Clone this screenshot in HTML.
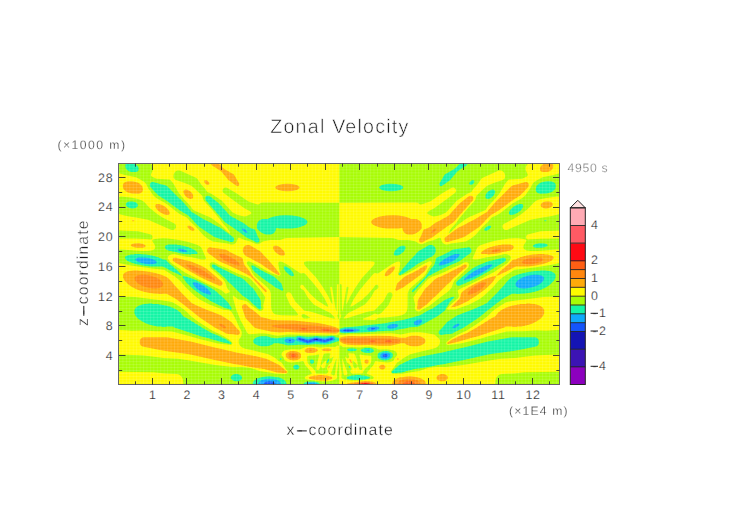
<!DOCTYPE html>
<html lang="en">
<head>
<meta charset="utf-8">
<title>Zonal Velocity</title>
<style>
html,body{margin:0;padding:0;background:#fff;}
body{width:752px;height:532px;overflow:hidden;font-family:"Liberation Sans", sans-serif;}
svg{display:block;}
</style>
</head>
<body>
<svg width="752" height="532" viewBox="0 0 752 532" text-rendering="geometricPrecision" style="-webkit-font-smoothing:antialiased">
<defs>
<pattern id="mesh" x="119.0" y="163.5" width="3.44" height="2.95" patternUnits="userSpaceOnUse">
<path d="M0.5 0V2.95M0 0.5H3.44" stroke="#fff" stroke-width="0.6" opacity="0.2" fill="none"/>
</pattern>
</defs>
<rect width="752" height="532" fill="#fff"/>
<rect x="119.0" y="163.5" width="440.5" height="221.0" fill="#a8fc05"/>
<g shape-rendering="geometricPrecision">
<path fill="#14f5a5" fill-rule="evenodd" d="M125.5 164.5l.9-1 8.1 0 1 .5 2.5 2.5 .6 1.5-.1 2.5-1 1-1.5 .6-4.5 0-2-.6-1-.5-1.5-1.3-.5-.2-.2-.5-.8-1-.2-2zM467.8 163.5l-.4 1-1.2 1.2-1.5 1-.5 .1-1 .9-.5 .1-5.4 3.7-6.3 7.5-.2 .5-1.1 1.1-.5 .2-1 .8-.5 .2-1 .9-.5 .1-1 .9-3.5 2.4-1 .1-1-.7-.3-.5 0-1.5 5.3-9 2-1.2 .5-.1 1-.8 2-1.1 .5-.1 1-.8 3-1.7 5.4-5.2zM474.2 180.5l.2 1-.2 1-1.5 1.7-.5 .3-1 .3-1-.1-.7-.2-.3-1 .3-1 1.7-1.7 1-.5 1.5 0zM555.7 184.5l0 3-.6 1.5-2.5 2.5-2 1-4 1.1-6.5 .1-1-.1-.5-.4-1-.2-1.5-1.5-.5-2 .3-.5 .2-2 .5-1 2.5-2.5 2-1.1 4-1 3.5-.1 3 .1 2.5 1.1 1.1 1 .1 .5zM150.4 183l.6-.6 1-.4 1.5 0 .5 .3 1 .2 .5 .3 2 .2 .5 .4 1 .1 .5 .4 1.5 .1 .5 .4 1.5 .1 .5 .4 1.5 .1 .5 .4 .5 0 .5 .5 .5 .1 12.9 12.9 .5 .1 .5 .5 .2 .5 4.3 4.5 .2 .5 2.8 3 .2 .5 1.9 2 .1 .5 1.3 1.3 2.5 1.2 1 .8 1.5 .7 1 .8 1.5 .7 1 .9 1.5 .6 1 .9 1.5 .6 .5 .4 .5 .1 .5 .4 .5 .1 .5 .4 .5 .1 .5 .4 .5 .1 .5 .4 .5 .1 .5 .4 .5 .1 .5 .4 .5 .1 1 .9 1.5 .5 .5 .5 .5 0 .5 .5 .5 0 .5 .5 .5 0 .5 .5 .5 0 .5 .5 1 .1 1 .9 .5 .1 1 .9 .5 .1 1.5 1.4 .5 .1 1.5 1.4 .5 .1 1.5 1.4 .5 .1 1.5 1.4 .5 .1 1.5 1.4 .5 .1 1.6 1.5 0 2.5-.6 1-1 .6-2 0-.5-.4-1-.2-.5-.3-1.5-.2-.5-.4-1-.1-.5-.3-1.5-.2-.5-.4-1-.1-.5-.3-1.5-.2-.5-.4-1-.1-.5-.4-1-.1-.5-.4-1-.1-1.5-.9-.5-.1-1-.9-.5-.1-1-.9-.5-.1-1-.9-.5-.1-1-.9-.5-.1-1-.9-.5-.1-1-.9-.5-.1-1-.9-.5-.1-1-.9-.5-.1-1-.9-.5-.1-6-6-.1-.5-5.9-5.8-.5-.2-1-.8-1.5-.7-.5-.4-.5-.1-2.5-1.8-1.5-.7-2.5-1.9-.5-.1-1.5-1.4-.5-.1-.9-.9-.5-.1-1.5-1.4-.5-.1-1.5-1.4-.5-.1-1.5-1.4-.5-.1-1-.9-.5-.1-1-.9-.5-.1-1-.9-1.5-.6-1-.9-.5-.1-1-.9-.5-.1-6-6-.2-.5-2.4-2.5-.5-1-.1-1 .1-1zM379.1 187l1.2-1.1 1.5-.9 1.5-.3 .5-.3 2-.2 .5-.3 5-.2 4.4 .2 4.5 1 2 1 1 1.1 0 1-1 1.1-2 1-4.5 1-4.4 .2-5-.2-.5-.3-2-.2-.5-.3-1.5-.3-1.5-.9-1.2-1.1zM495.2 191l0 .5-.4 2-1.6 2.5-1 1-1.5 1.1-1 .5-1 .2-.5 .2-.5 .1-.5-.4-1-.2-.6-.5-.2-1.5 .2-1.5 1-2 1.6-1.6 2.5-1.5 1-.1 .5-.3 1 0 1 .4zM205.4 197l1-1 1.5-.2 1.5 .1 1 .9 .5 .2 2 1.8 .5 .2 1.5 1.3 .5 .2 1.5 1.4 .5 .1 5 5 .1 .5 4.4 4.5 .1 .5 3.4 3.4 .5 .1 1 .8 .5 .1 .5 .5 1.5 .6 .5 .4 .5 .1 1 .8 1.5 .6 .5 .5 .5 0 .5 .5 .5 .1 .5 .4 .5 .1 .5 .4 .5 .1 .5 .4 .5 .1 1 .9 .5 .1 1.5 1.4 .5 .1 2 1.9 .5 .1 .5 .4 .5 .1 .5 .4 .5 .1 .5 .4 1 .1 .5 .4 1 .1 .5 .4 .5 .1 0 .5 .5 .5 0 .5 .5 .5 .1 1 .9 1.5 .1 1 .4 .5 .1 .5 .4 .5 .7 1.5 .8 1 .1 2-.6 1-1 .6-1.5-.1-4.5-2.4-5.5-2.6-1-.9-.5-.1-1.5-1.4-.5-.1-1.5-1.4-.5-.1-1-.9-.5-.1-1.5-1.4-.5-.1-1.5-1.4-.5-.1-1-.9-.5-.1-1.5-1.4-.5-.1-1-.9-.5-.1-1-.9-.5-.1-1-.9-.5-.1-1-.9-.5-.1-3.5-3.5-.1-.5-2.4-2.5-.1-.5-3.9-4-.1-.5-3.9-4-.1-.5-3.4-3.5-.1-.5-2.9-3-.1-1.5zM125.9 203.5l1.6-1.6 1-.1 .5-.4 4 0 .5 .4 1.5 .2 1 .5 1.6 1.5 0 .5 .4 .5 0 .5-.4 .5 0 .5-.6 .6-1.5 .9-1.5 .2-.5 .3-2 0-.5-.3-1.5-.1-1.5-.9-.5-.1-1.6-1.6zM523.2 205l0 1.5-.5 1.5-2 2.5-2.6 2.1-4 2-1.5 .1-.5 .3-1.5 0-.5-.3-.5-.1-.6-.6 .1-2 .3-.5 .1-.5 2-2.5 2.6-2.2 .5-.1 1-.8 1-.5 3-1 2.5 0zM256.9 228.5l0-4.5 .4-.5 0-.5 .5-.5 0-.5 2.1-2.1 .5 0 .5-.5 .5 0 .5-.4 6-.1 1.5-1 .5 0 .5-.4 1-.1 .5-.4 1.5-.2 .5-.3 2-.2 .5-.3 2.5-.2 .5-.3 5.9-.2 7.5 .2 .5 .3 3 .2 .5 .3 2 .2 .5 .3 1 .1 .5 .4 1 .1 .5 .5 1 .1 1.5 .9 .5 .1 1.6 1.5 0 .5 .5 .5 0 1-.5 .5 0 .5-1.6 1.5-.5 .1-1.5 .9-1 .1-.5 .5-1 .1-.5 .4-1 .1-.5 .3-2 .2-.5 .3-3 .2-.5 .3-2.5 .1-10.9-.1-.5-.3-2.5-.2-.4 .5-.1 1.5-.4 .5-.1 .5-.4 .5-.1 .5-1.5 1.5-.5 .1-.5 .4-1 .2-.5 .3-5 0-.5-.3-1-.1-.5-.4-1-.2-.5-.4-.5-.1-1-.9-.5-.1zM544.3 220.5l.3-.3 1.5 0 .3 .3 0 .5-.3 .3-1.5 0-.3-.3zM491.2 226.5l0 .5-.8 1-1.7 1.7-1 .5-1.5 .5-1.5-.1-.6-.6 0-.5 1-1.5 2.1-1.6 1.5-.6 2 0zM533.1 245.5l.5-.6 1-.5 1.5-.6 1.5-.1 .5-.3 1-.1 5.5 .1 .5 .3 1.5 .3 1.1 1 0 .5-.5 .5-1.1 .7-.5 .1-.5 .3-3 .6-6.5 0-2-.7-.5-.5zM164.9 246.5l.5-.5 .1-.5 .5 0 .5-.5 1-.1 .5-.4 8.9 0 .5 .4 3 .1 .5 .4 2 .1 .5 .4 1.5 .1 .5 .4 1 .1 .5 .4 1.5 .1 1.5 .9 1 .1 1.5 .9 .5 .1 .5 .4 .5 .1 1 .9 .5 .1 2.1 2 0 1-.6 .5-5.5 .1-.5 .4-1.5 0-.5-.3-5-.2-.5-.3-2.5-.2-.5-.3-2-.2-.5-.4-1-.1-.5-.4-1-.1-.5-.3-2.9-.2-.5-.4-2-.1-.5-.4-1-.1-.5-.4-.5-.1-1.6-1.5 0-.5-.5-.5zM434.8 247l.5 1 .2 1 .3 .5-.1 2-.3 .5-.1 1-.9 1-.1 .5-2.1 2-1 .2-.5 .4-1.5 .6-2 1.1-1 .8-6.5 3.2-.5 .4-.5 .1-7 4.9-.5 .1-1 .9-.5 .1-1 .9-.5 .1-1 .8-4 2.4-3 1.5-.5 0-.6-.5 0-1 4.6-6 2.8-3 .2-.5 2.3-2.5 .7-1 6.3-6.5 .2-.5 2.5-2.5 1.5-.7 .5-.4 .5-.1 1-.8 2.5-1.2 1-.8 3-1.7 1-.3 1.5-.1 1.5 .4 1 .6zM405.3 246.5l.2 1-.2 1.5-1.5 2.5-1.6 1.5-3 2-1 .3-.5 .3-3 0-1-1.1 0-.5 .5-2 1-1.5 2.5-2.6 2.5-1.6 1.5-.5 2.5 0 .5 .1zM471.3 249l.1 2.5-.5 1-1.2 1.2-3 2-1.5 1.3-.5 .2-3.5 2.9-.5 .1-1 .9-4 1.9-1 .3-1.5 .8-2 .7-2.5 1.2-1 .3-.5 .4-.5 .1-.5 .4-2.5 1-9 4.5-4.5 2.5-.5 .2-1 .7-.5 .2-2.5 2.4-12 12.9-1 .6-.8-.7 .2-1 13.1-13.3 .7-1.2 1-1 1.1-2 2-3 .9-1 .2-.5 2.8-3 1-2.5 .3-1.5 .3-.5 .1-1.5 .4-.5 .2-1 3-1.5 1-.2 .5-.4 .5-.1 .5-.4 2.5-1.1 3.5-1.9 .5-.1 .5-.4 .5-.1 1-.8 3-1.6 2.5-.1 .5-.4 3-.1 .5-.4 3-.2 .5-.2 3.5-.3 .5-.3 1-.1 1.5 .2zM125 257l1-1 .5-.1 .5-.4 1-.1 .5-.4 1.5-.1 .5-.4 3.5-.1 .5-.4 6 0 .5 .3 5.5 .2 .5 .3 2.5 .2 .5 .3 2.5 .2 .5 .4 1.5 .1 .5 .4 1 .1 .5 .4 1.5 .1 1.5 .9 1 .1 .5 .4 .5 .1 1 .9 2 .1 .5 .3 1 .2 4.5 4.8 .5 .2 1 .9 .5 .1 2.9 2.9 .6 .1 5.4 5.5 .1 .5 .9 1 2 0 .5 .4 1.5 .1 .5 .4 1 .1 .5 .4 1 .1 .5 .4 1 .1 1.5 .8 1 .2 1.5 .8 1 .2 11 5.5 1 .8 2.5 1.2 2.5 1.8 1.5 .7 1.5 1.4 .5 .1 3.5 3.4 .5 .1 7.6 7.5 2.7 4 .1 .5 .9 1 0 1-.8 .7-.5 0-2.5-.9-3-.8-2.5-1.3-.5-.1-.5-.4-.5-.1-.5-.4-1-.2-2.5-1.4-.5-.1-.5-.4-.5-.1-.5-.4-.5-.1-.5-.4-.5 0-.5-.5-.5 0-.5-.5-.5-.1-.5-.4-.5-.1-2.5-1.9-.5-.1-1-.9-1.5-.6-1-.9-.5-.1-1-.9-.5-.1-1-.9-.5-.1-1.5-1.4-.5-.1-1-.9-.5-.1-1.5-1.4-.5-.1-2.5-2.3-.5-.2-6-6-.1-.5-1.4-1.5-.1-.5-.9-1 0-.5-.5-.5 0-1-.5-.5-.5 0-.5-.5-1 0-.5-.5-.5 0-.5-.5-.5 0-.5-.5-.5 0-.5-.4-.5-.1-1.5-.9-.9-.1-.5-.4-.5-.1-.5-.4-.5-.1-.5-.4-1.5-.6-1-.8-.5-.1-2.5-1.5-3.5-1.5-.5-.4-.5 .3-3 .1-9-.1-.5-.3-3.5-.2-.5-.3-2.5-.2-.5-.3-2-.2-.5-.3-2-.2-.5-.3-1.5-.2-.5-.3-1-.2-.5-.3-1-.1-.5-.4-1-.2-.5-.4-1-.1-1.5-.9-.5-.1-2.5-2.5zM505.7 258.5l.2 2-1.3 1.2-6.9 4.1-7.5 4.8-1.5 .7-2 1.3-2.5 1.2-2 1.3-4 2.1-.5 .1-.5 .4-.5 .1-.5 .4-.5 .1-.5 .4-6 2.9-2 .7-1.5 .9-2 .6-.5 .4-2 .6-.5 .4-1.5 .5-1.5 0-1.1-.7-.5-1-.1-1 .4-1 3.3-3.1 .5-.2 3-2.8 .5-.2 5-4.3 .5-.2 2.5-2.2 1.5-1.1 1.5-.6 .5-.5 .5-.1 .5-.4 .5-.1 .5-.4 .5-.1 .5-.4 .5 0 2.5-1.4 1-.2 1.5-.8 1-.2 1.5-.8 1-.2 .5-.3 1-.2 .5-.3 4-.7 .5-.3 1.5-.2 .5-.3 1.5-.2 .5-.3 1.5-.2 .5-.2 1.5-.3 1-.4 2.4 0 .5 .1zM211.9 265l.5-.5 2 0 .5 .4 .5 .1 1 .8 .5 .2 1 .8 .5 .1 .5 .4 1 .2 2.5 1.4 .5 .1 .5 .4 .5 .1 .5 .4 .5 .1 .5 .4 .5 0 2.5 1.5 .5 .1 1 .8 .5 .1 .5 .5 1 .1 .5 .4 1.5 .6 .5 .4 .5 .1 .5 .4 1.5 .5 .5 .5 .5 0 .5 .5 1.5 .1 1.5 .9 .5 .1 1 .9 .5 .1 8.5 8.4 .5 .1 1 1 .1 .5 .9 1 .1 .5 .9 1 .1 .5 .9 1 .6 1.5 .9 1 .1 .5 1.9 2.5 .1 .5 .4 .5 .1 1 .4 .5 .1 6 .4 .5 0 .5-.5 1-1 .5-1-.4-1-.9-.5-.2-3.5-3.3-.5-.2-2.5-2.5-.2-.5-.8-.8-.5-.2-1.5-1.4-.5-.1-1-.9-.5-.1-1-.9-.5-.1-1-.9-.5-.1-12.5-12.4-.5-.1-2.5-2.5-.1-.5-3.4-3.4-.5-.1-5-4.8-.5-.2-2.5-2.3-.5-.2-1.5-1.3-.5-.2-.5-.5-.6-1zM251.4 265.5l2 0 1.5 .9 .5 .1 1 .9 1.5 .6 2.5 1.9 .5 0 .5 .5 .5 .1 3.5 1.9 7.5 3.5 1 .8 .5 .2 7.1 6.6 .2 1 .3 .5 .7 3 .5 1 0 1-.8 .8-.5 0-3.5-2-2.5-1.1-2.5-1.7-1.5-1.2-.5-.2-2.5-1.9-.5-.2-1-.9-.5-.1-1.5-1.3-.5-.2-1-.9-.5-.1-1.5-1.4-.5-.1-1.5-1.4-.5-.1-2.5-2.4-.5-.1-3.6-3.5-.1-.5-.4-.5-.5-1.5-.4-.5zM283.8 266.5l2-.1 1 .5 2.5 1.6 1.7 1.5 1.9 2.5 .6 1 .1 1 .3 .5 0 .5-.6 .6-1.5 .1-1.5-.6-1.5-1-3.6-3.6-.1-.5-.8-1-.6-1.5zM555.1 274l.1 .5 .4 .5 0 2.5-.9 1.5 0 .5-.5 .5-.1 .5-4.5 4.5-.5 .2-1 .8-.5 .2-1 .8-1.5 .7-.5 .4-.5 .1-2.5 1.3-1 .2-.5 .4-2 .6-.5 .3-1.5 .2-.5 .4-1 .1-.5 .3-2 .2-.5 .4-2 .1-.5 .3-3 .3-1 .3-5 .1-.5 .3-3 0-.5-.3-4 0-.5 .4-2.5 1.1-.5 .5-.5 .1-1 .7-3.4 1.7-1 .9-.5 .2-5 3.8-.5 .2-4 3.3-.5 .2-2 1.8-.5 .2-1.5 1.3-.5 .2-5 4.2-.5 .2-2 1.9-.5 .2-1.5 1.2-2 1.2-1 .9-.5 .1-1 .9-.5 .2-1 .8-.5 .2-1 .8-.5 .2-1 .8-.5 .1-1 .9-.5 .1-1 .9-.5 .1-1 .9-.5 .1-.5 .5-1.5 .6-.5 .4-.5 .1-.5 .4-.5 .1-.5 .4-.5 .1-.5 .4-.5 .1-.5 .4-.5 .1-.5 .4-.5 .1-2 1.3-.5 .1-1 .8-2 .2-.5 .3-5 .3-1 .3-3 .3-1.5-.3-.6-.6-.6-1.5 .6-1.5 3.9-4 .2-.5 2.8-3 .6-1 3.6-2.5 .5-.2 1-.8 .5-.2 1-.8 .5-.2 1-.8 .5-.2 1-.8 2-1.1 1-.1 .5-.4 .5-.1 .5-.3 1-.2 1.5-.8 1-.2 .5-.4 2-.6 .5-.4 1-.1 .5-.4 2-.6 .5-.4 1-.1 .5-.4 .5-.1 1.5-.8 1-.2 2.5-1.4 2-.7 1.5-.8 2-.7 .5-.4 2.5-1 12.2-12.3 .2-.5 4.8-5 .2-.5 1.9-2 .1-.5 4-4.1 2-1.5 .5-.1 1.5-.9 1-.1 .5-.4 .5-.1 .5-.4 1-.1 .5-.4 1-.1 .5-.4 1.5-.2 .5-.3 1-.2 .5-.2 2-.3 .5-.3 2-.2 1-.4 2-.1 .5-.3 3-.2 .5-.2 5.5-.3 .5-.2 5 0 .5 .2 3.5 .3 .5 .3 1.5 .2 1.5 .9 .5 .1zM454.3 297l0 .5-4.6 4.7-2.8 4.8-.9 1-.6 2-2.2 2.1-.5 .1-3.5 2.9-.5 .1-1 .9-.5 .2-1 .7-2.5 1.2-.5 .5-.5 .1-1 .7-2.5 1.2-.5 .5-.5 .1-1 .7-2.5 1.3-1 .8-2 .7-2.5 1.4-1 .2-.5 .3-2.5 .4-5.5 .2-.5 .3-1.5 .2-.5 .3-1.5 .2-.5 .2-2.5 .3-.5 .2-2.5 .3-.5 .3-2 .2-.5 .3-3.9 .6-7.5 .1-.5 .2-7 .3-2.5 .5-14.5 .6-.5 .1-4 .3-8 .1-3.5 .4-3-.4-2.5-.9 0-3.1 2-.7 1-.1 .5-.3 2-.5 9-.6 1-.3 3.5-.2 1-.3 3.5-.2 .5-.2 4-.3 1-.3 3.5-.2 1.5-.3 3.5-.2 .5-.2 4.5-.3 .5-.2 3-.3 .5-.3 2-.2 .5-.3 2-.2 .5-.3 4.9-.7 1-.3 2-.2 1-.3 2-.2 .5-.3 2-.2 .5-.3 3-.7 .5-.3 1.5-.2 .5-.3 3-.7 .5-.3 1-.1 .5-.3 1.5-.3 .5-.3 1.5-.2 .5-.3 1-.2 1-.7 1.5-.7 1-.8 1.5-.7 2-1.4 4-2 1-.2 2.5-1.8 .5-.2 3-2.3 .5-.2 1-.8 .5-.2 3-2.3 2.5-1.5 6-2.4 1.5-.2zM134.4 310l.5-.5 0-.5 .5-.5 .1-.5 1-1 .5-.1 1-.9 .5-.1 .5-.4 1-.2 .5-.4 1-.1 .5-.4 1.5-.1 .5-.3 4.5-.2 .5-.3 3 0 .5 .4 6 .1 .5 .4 2.5 .1 .5 .4 2 .1 .5 .4 2 .1 .5 .4 1 .1 .5 .4 1.5 .1 1.5 .9 1 .1 1.5 .9 .4 .1 .5 .4 .5 .1 .5 .4 .5 .1 .5 .4 .5 .1 2 1.9 .5 .1 1 1 .1 .5 1.4 1.5 .1 .5 .9 .9 .5 0 .5 .5 .5 .1 .5 .4 .5 .1 .5 .4 .5 .1 1 .9 1.5 .6 2.5 1.9 1.5 .6 2.5 1.9 1.5 .6 1 .9 1.5 .6 2.5 1.9 .5 0 .5 .5 1.5 .6 1 .9 .5 0 .5 .5 1.5 .6 1 .8 .5 .1 1.5 1 1.5 .5 .5 .4 1 .2 1.5 .8 1 .2 2.5 1.3 1 .2 1.5 .9 .5 .1 1 .8 1 .2 2 1 1 .8 1.5 .7 1.5 1.2 .5 .2 .5 .6-.5 1-1 0-.5-.2-1.5-.3-.5-.2-4-.8-.5-.3-1.5-.2-.5-.3-1.5-.2-.5-.3-1.5-.2-.5-.4-1-.1-.5-.3-1.5-.2-.5-.4-1-.1-.5-.3-1.5-.2-.5-.4-1-.1-.5-.4-1.5-.1-.5-.4-1.5-.1-.5-.4-1.5-.1-.5-.4-1-.1-.5-.3-1.5-.2-.5-.4-1-.1-.5-.4-1-.1-.5-.4-1-.1-.5-.4-1-.1-.5-.4-1-.1-.5-.4-1-.1-.5-.4-1-.1-.5-.4-1-.1-.5-.4-1-.1-.5-.4-1-.1-.5-.4-1-.1-.5-.4-1-.1-.5-.4-1-.1-.5-.4-1-.1-.5-.4-1-.1-.5-.4-1-.1-.5-.4-.9-.1-1-.9-6.5 0-.5 .4-4 0-.5-.4-5-.1-.5-.4-2-.1-.5-.4-1.5-.1-.5-.4-1.5-.1-.5-.4-1-.1-.5-.4-.5-.1-.5-.3-1-.2-1.5-.9-.5 0-.5-.5-.5 0-.5-.5-.5-.1-1-.9-.5-.1-1-.9-.5-.1-3-3-.1-.5-.9-1-.1-1-.5-.5zM339.3 338.8l0 1.4-.5 .8-.5 .3-2 .5-6.5 2.3-3.5 .3-1 .3-2.5-.3-7.5-.2-4.5 .2-.5 .2-1.5 .3-5.5-.2-5.5 .1-.5 .2-7.5 .3-1.5 .2-2.5-.4-.5-.3-1.4-.2-.5-.3-1.5-.2-.5-.3-1.5-.1-1-.4-5 0-1.5 1.2-1 .6-1 .2-.5 .3-1 .2-.5 .2-2.5 .3-4 0-2-.2-.5-.3-1.5-.3-2-.9-1-.6-1.1-1-.5-1 0-2 2.1-2.1 2-1 1.5-.2 .5-.3 2-.2 5 .1 3 .7 2 .8 3 .2 .5 .2 3 0 1.5-.4 2.5-.1 .5-.3 2.4-.2 2-.5 9 0 1-.5 2-.4 3 .4 2 .4 4.5 .1 4.5-.1 3-.5 6 .5 3.5 0 6.5-.8 2 .3 2.5 1.1 2 .5 .5 .3zM538.8 340.5l0 3-.1 .5-1 1.5-1.6 1.1-1.5 .2-.5 .3-2 .2-.5 .3-2 .2-.5 .2-2 .2-.5 .3-2 .2-.5 .3-2 .2-.5 .3-2 .2-.5 .3-2.5 .2-.5 .4-2 .1-.5 .3-3 .2-.5 .3-3 .2-1 .4-2.9 .1-.5 .3-3 .2-.5 .3-3.5 .2-.5 .3-3 .2-.5 .3-2.5 .2-.5 .3-2 .2-.5 .4-1.5 .1-.5 .3-2 .2-.5 .4-1.5 .1-.5 .3-2 .2-.5 .4-1.5 .1-.5 .3-1.5 .2-.5 .3-2 .2-.5 .4-1.5 .1-.5 .3-2 .2-.5 .4-1.5 .1-.5 .3-4.5 .7-.5 .4-2 .2-.5 .3-4 .6-.5 .4-2 .1-.5 .4-2 .2-.5 .3-1.5 .1-.5 .3-2.5 .2-.5 .3-2 .1-.5 .4-2.5 .1-.5 .4-2 .1-.5 .4-2 .1-.5 .4-2 .1-.5 .4-2.5 .1-.5 .4-2.5 .1-.5 .4-3 .1-.5 .4-3 .1-.5 .4-2.5 .1-.5 .4-1 .1-.5 .4-1.5 .1-.5 .4-1.5 .1-.5 .4-1.5 .1-.5 .4-1 .1-.5 .4-1.5 .1-.5 .4-5 .2-.5 .3-3.9 .1-.6-.1-.5-1 .1-.5 .5-.6 1-.6 2.4-2.3 .5-.2 2.5-2.3 .5-.2 1-.8 2.5-1.1 .5-.4 .5-.1 .5-.4 .5-.1 .5-.4 .5-.1 .5-.4 1-.2 .5-.4 .5-.1 .5-.4 .5-.1 2.5-1.4 1-.1 .5-.3 1.5-.2 .5-.3 1.5-.2 .5-.3 1.5-.2 .5-.3 1.5-.2 .5-.3 1.5-.2 .5-.3 2-.1 .5-.4 2.5-.2 .5-.3 2-.2 .5-.3 2-.1 .5-.4 2.5-.2 .5-.3 2-.2 .5-.3 2.5-.3 .5-.3 1.5-.1 .5-.4 1.5-.1 .5-.3 1.5-.2 .5-.3 2-.3 .5-.3 1.5-.1 .5-.4 1.5-.1 .5-.4 1.5-.1 .5-.3 2-.3 .5-.3 4-.7 .5-.3 1.5-.2 .5-.3 1.5-.2 .5-.3 1.5-.2 .5-.3 1.5-.2 .5-.3 1.5-.2 .5-.3 1.5-.2 .5-.3 1.5-.1 .5-.3 5.5-1.2 .5-.3 1.5-.3 .5-.3 1.5-.2 .5-.3 2-.2 1-.3 2-.2 .5-.3 2-.1 1-.4 2-.2 .5-.3 5-.6 .5-.3 2.4-.2 .5-.4 2-.1 .5-.3 3.5-.3 22.5 .1 .5 .2 1.5 1 1.1 1.5zM360.7 350l.6-.6 .5-.1 1.5-.8 1.5-.3 .5-.2 4-.1 1 .1 2.5 .9 1.1 1.1-.1 1.5-.5 .6-2.5 .9-4.5 .1-2.5-.6-2-1-1.1-1zM347.2 349.5l.6-.6 1-.1 .5-.3 3.5-.1 1.5 .1 .5 .3 1 .1 .5 .4 .5 .1 .5 .6-.5 .1-.5 .5-1 .2-.5 .2-4 .2-2-.2-1-.4-.6-.6zM377.7 354l1.6-1.6 2.5-1 1.5-.2 .5-.2 4 0 2.5 .9 1 .5 1.5 1.6 0 2.5-.9 1-.1 .5-.5 .2-1 .9-2 .9-3.5 .5-3.5-.5-2-.9-1.6-1.6-.2-1.5zM279.6 359l.3-.6 1-.2 .7 .3 0 .5-.2 .6-.5 .2-.5-.1zM328.8 358.9l.5 .6-.3 .5-.1 1-.5 1-1.1 1.1-.5-.1 0-1 .4-.5 .1-1 .9-1 .1-.5zM311.8 359.4l1.5 .5 .8 1.1-.1 1.5-1.2 1.1-.5 .1-1 0-1.2-1.2 0-2 .7-.7zM293.2 366.5l1.6-1.6 1-.2 1.5 .1 .5 .1 1.3 1.1 .3 .5 0 1-.5 1-1.1 .7-1.5 .3-1.5-.3-1-.6-.6-1.1zM348.8 365.9l.5-.1 1 1.2 0 1.2-.5 0-.7-.7-.4-1zM230.9 376.5l1.5-1.6 .5-.1 .5-.4 2-.5 2 .1 .5 .3 1 .1 .5 .4 .5 0 .5 .5 .5 .1 .6 .6 .1 .5 .4 .5-.1 2-1 1.1-2 1-2 .1-2.5-.1-.5-.4-1-.2-2.1-2zM346.8 377.5l1-1 1-.1 .5-.4 1.5-.1 .5-.4 3.5-.1 .5-.4 5.5 0 .5 .4 3.5 .1 .5 .4 1.5 .1 .5 .4 1 .1 .5 .5 .5 0 .5 .5 0 .5-.5 .5-1 .1-.5 .4-2 .1-.5 .4-5 .2-.5 .3-7 0-.5-.4-3-.1-.5-.4-1-.1-.5-.5-.5 0zM252.8 382.5l1-1.5 1.1-1 2.5-1.5 1-.3 .5-.3 1-.2 .5-.3 1.5-.2 .5-.3 2.5-.2 1-.3 3-.1 5 .5 1.5 .4 3 .1 3.5 1.2 3 2 .2 .5 .9 1 0 .5 .4 .5 .1 1.5-33.8 0zM303.7 383.5l.6-.7 1-.5 2-.6 6.5-.1 1.5 .2 .5 .3 1.5 .1 1.5 .6 .8 .7 0 .5-.1 .5-15.3 0-.5-.5z"/>
<path fill="#0faafa" fill-rule="evenodd" d="M242.4 228.5l.5-.1 1 .3 1.5 1 1.7 1.8 .3 1.1-.5 .4-1-.2-2-1.3-1-1-.7-1-.1-.5zM177.7 249.5l.2-.5 1-.3 3 .1 2 .5 1.7 .7 1.3 1 .1 .5-.6 .4-1 .2-1.5 0-2-.3-3-1.1-.9-.7zM459.6 254.5l0 .5-.5 1-1.9 2-2.6 2-2.9 1.7-5 2.1-3.5 1.2-3.5 .6-.5-.2-.4-.4 0-.5 .5-1 .7-1 1.1-1 3.5-2.5 4.1-2.3 3.5-1.6 3-1 3-.2 .7 .1zM135.3 259.5l.2-.5 .5-.5 1-.5 1.5-.4 3.5-.2 4.5 .3 4 .8 3.5 1.2 2 1.3 .7 1 0 .5-.3 .5-.7 .5-2.2 .6-3.5 .2-4-.3-4.5-.9-3.2-1.1-2.4-1.5zM492.2 264.5l.2 .5-.3 .5-.8 1-1.8 1.5-3.6 2.5-5.2 3-6 2.9-6.3 2.6-3.2 1-1 .2-.6-.2 .2-.5 .9-1 3.4-3 4.1-3 4-2.4 5.5-2.7 4.7-1.9 3.8-1zM544 278l0 1-.6 1.5-1.2 1.5-1.7 1.5-2.4 1.5-2 .9-5 1.7-5.5 .9-2.5 .1-2.5-.3-2-.5-1.5-.8-1.1-1-.4-1-.1-1 .6-1.5 1.1-1.5 1.1-1 2.3-1.5 2-1 5-1.7 3-.6 3-.4 3-.1 2.5 .2 2 .5 1.3 .6 1.1 1zM192.9 282.7l.5-.3 1-.1 2 .3 3.5 1.3 3.8 2.1 2.7 2 2.7 2.5 1.7 2.5 .2 1-.1 .3-.5 .4-1 0-2.5-.6-4-1.7-3.5-2-3-2.2-2.2-2.2-1.3-2-.2-1zM422 320l.1 1-.7 1.5-1.2 1.2-1.5 1-1.5 .5-1.5 0-1-.4-.7-.8-.2-1 .3-1 1.1-1 1-.6 1.5-.6 2-.4 1.5 .1zM459.4 324l0 .5-.5 1-1.9 1.5-2.3 1-1 .2-1-.2-.2-.5 .5-1 2.2-1.7 2.5-1 1-.1zM386.9 327l.8-1 1.1-.7 2-.8 2-.4 1.9-.1 2 .3 1.4 .7 .1 .5-.6 1-1.4 1-1.5 .6-1.9 .5-2 .1-2-.3-1.5-.8zM366.7 329l.3-.5 1.7-1 2.1-.6 2-.3 2.5-.1 2 .3 1.5 .5 .6 .7-.2 .5-1.4 1-2 .7-2.5 .4-2.5 .1-2-.3-1.9-.9zM339.3 331.1l0-1.2 4-1 3-.3 5-.2 4.5 .3 3 .6 .6 .2 .5 .5-.4 .5-2.2 .8-2.5 .5-3 .3-7 .1-2.5-.3zM296 340l.9-2 .9-.8 1-.3 1 .1 8 2.1 8-1.8 9 1.2 6-1.6 1.5-.2 .9 .3 .7 .5 1.1 1.5 0 .5-.4 .5-1.3 .8-8 2.4-9-1.3-8.5 1.9-10-2.6-1.4-.7zM284.4 340.5l.3-.5 1.5-1 1.6-.6 2-.2 2 .2 1.5 .5 2 1.1 .2 .5-.7 1-1.5 1-1.5 .5-2 .2-2-.2-1.5-.5-1.5-1-.3-.5zM366.4 350.5l.1-.5 1.3-.4 1.5 .4 .1 .5-.6 .3-1 .2zM380.1 355.5l.4-1 1.3-1.2 2-.7 2-.2 2 .3 1.5 .7 .8 1.1 .2 1-.6 1.5-1.3 1-1.6 .7-2 .2-2-.3-1.5-.7-.9-.9-.3-.5zM258.2 384l.2-1 .7-1 1.1-1 1.2-.7 3.5-1.1 4.5-.5 2.5 .2 2.5 .3 3 .9 1.6 .9 1.1 1 .7 1 .2 1-.1 .5-22.6 0zM306.9 383.5l.6-.5 1.3-.4 3.5-.2 1.6 .1 2.1 .5 .7 .5 0 .5-.6 .5-8.4 0-.7-.5z"/>
<path fill="#1455fa" fill-rule="evenodd" d="M244.9 231.1l0-.4 .2 .3zM181.8 250.5l.1-.2 .5 0 .8 .2-.8 .1zM370.8 329l.2-.5 1.8-.6 1.8 .1 .6 .5-.3 .5-1.6 .5-1.5 0zM343 330.5l.7-.5 1.6-.4 4-.2 3.5 .3 1 .3 .3 .5-1.2 .5-1.1 .2-4.5 .2-3.6-.4zM298.1 339l.2-.8 .5-.3 .5 0 3.9 1.1 4.6 1.6 .5 0 5.6-2.1 1.9-.4 2.5 .3 6.5 1.6 7-2.3 1.1 .3 .3 .5 0 .5-.3 .5-.6 .3-7 2.3-9-1.3-2.5 .4-6 1.5-7-2.2-2.4-1zM288.6 340.5l.7-.5 .5-.1 .7 .1 .7 .5-.2 .5-1.2 .3-1.1-.3zM382.7 355.5l.3-.5 .6-.5 1.7-.5 1 .2 .8 .3 .4 .5 .2 .5-.2 .5-.7 .7-1 .4-1 .1-1-.2-.8-.5-.3-.5zM263.6 384l.4-1 1.4-1 2-.6 2-.2 2.5 .2 1.9 .6 1.4 1 .4 1-.1 .5-11.8 0zM311.3 383.5l1.1 0-.6 .2z"/>
<path fill="#1414aa" fill-rule="evenodd" d="M314.2 339.5l1-.5 .6-.1 1.2 .1 1 .5-.7 .4-2.5 .1z"/>
<path fill="#fffa00" fill-rule="evenodd" d="M150.3 163.5l189 0 0 39.2-76.4-.1-2 .2-2 1.5-.5 .2-1 0-9-3-12-8.2-9.5-5.5-1-.3-1 .1-1.5 .8-.7 1.1-.2 1.5 .4 1 .5 .7 9 6.9 12 8.7 5.2 2.7 1.6 1.5 .2 .6-.6 .9-2.9 1.6-1.5 .5-1.5 .3-3-.3-4-1.2-5.3-2.4-11-12-10.7-6.9-3.7-1.6-1.5-2.5-4.5-5-3.8-5.6-1-1-16-7.1-1.5-.3-1.5 .1-1.5 .7-.8 .7-.8 1-.5 1-.3 1.5 0 1.5 .3 1 .6 1 1.5 1.1 9 2.8 6.5 2.8 3.5 3.1 7 6.6 .5 .8 .8 3.3 .9 1.5 7.3 7.9 7.5 9.1 4 5.4 4.2 4.6 1.4 2 1.1 2 .3 1.2-.5 0-2-1.6-6.5-6.5-8.5-6.3-4.5-2.5-.5 0-14.3-6.3-2-3-1.6-2-5.6-5.8-4-4.7-2-3-3.9-7-1.5-2.1-1.7-1.9-1.3-.9-.5-.1-12.5-.7-4.8-2.3-.7-1-.1-1 2-4.5 .2-2-.7-2-.7-1zM559.6 163.5l0 9.7-6 1.8-11 2.3-3 1.4-5.4 3.3-1.6 1.8-2.5 4.9-1.5 1.8-3 4.4-2 2-2.5 1.9-5 2.6-4 2.4-9.4 7.5-3 2.1-3 1.8-5 2.2-3.3 4.1-6.4 6-6.8 7.8-4.5 3.4-5 2.8-14.5 1.9-3.5 1.1-2 0-1.5-.5-1.5-1.2-1.1-1.8-.9-2.7-.5-.6-.5 0-1 .2-5.5 2.4-5 1.3-5.5 2.3-2 .3-2-.6-2.5-1.8-1.5-.6-6.5-1.1-9 0-1.5-.3-3.2-1.3-2.7-.6-52.5-.8 0-34.4 76.4-.1 2 .2 2 1.5 .5 .2 1 0 9-3 12-8.2 9.5-5.5 1-.3 1 .1 1.5 .8 .7 1.1 .2 1.5-.4 1-.5 .7-9 6.9-12 8.7-5.2 2.7-1.6 1.5-.2 .6 .6 .9 2.9 1.6 1.5 .5 1.5 .3 3-.3 4-1.2 5.3-2.4 11-12 10.7-6.9 3.7-1.6 1.5-2.5 4.5-5 3.8-5.6 1-1 16-7.1 1.5-.3 1.5 .1 1.5 .7 .8 .7 .8 1 .5 1 .3 1.5 0 1.5-.3 1-.6 1-1.5 1.1-9 2.8-6.5 2.8-3.5 3.1-7 6.6-.5 .8-.8 3.3-.9 1.5-7.3 7.9-7.5 9.1-4 5.4-4.2 4.6-1.4 2-1.1 2-.3 1.2 .5 0 2-1.6 6.5-6.5 8.5-6.3 4.5-2.5 .5 0 14.3-6.3 2-3 1.6-2 5.6-5.8 4-4.7 2-3 3.9-7 1.5-2.1 1.7-1.9 1.3-.9 .5-.1 12.5-.7 4.8-2.3 .7-1 .1-1-2-4.5-.2-2 .7-2 .7-1 1.4-1.5zM119 173.2l6 1.8 11 2.3 3 1.4 5.4 3.3 1.6 1.8 2.5 4.9 1.5 1.8 3 4.4 2 2 2.5 1.9 5 2.6 4 2.4 9.4 7.5 3 2.1 3 1.8 5 2.2 3.3 4.1 6.4 6 6.8 7.8 4.5 3.4 5 2.8 14.5 1.9 3.5 1.1 2 0 1.5-.5 1.5-1.2 1.1-1.8 .9-2.7 .5-.6 .5 0 1 .2 5.5 2.4 5 1.3 5.5 2.3 2 .3 2-.6 2.5-1.8 1.5-.6 6.5-1.1 9 0 1.5-.3 3.2-1.3 2.7-.6 52.5-.8 0 24.1-31.5 0-2 .2-1 .3-.5 .3-.4 1 .4 1.4 1 1.6 11 11.7 6.8 9.8 5.3 9 2.9 6.3 1 1.5 .1-.8-.1-2.2-2.2-13.8 .7-.8 .5 0 .5 .3 .3 .5 3.2 19.7 1 4.4 .3-1.1 .1-3 .3-22.5 .2-.5 .6-.4 .5 .1 .3 .3-.4 29.5-.2 .5-.6 .5 0 .5 .6 2.5 1.3 1.8 0-58.6 30.5 0 3 .2 1.4 .6 .4 .5 0 1-1 2-11.6 12.5-6.5 9.5-5.3 9-2.9 6.3-1 1.5-.1-.8 .1-2.2 2.2-13.8-.7-.8-.5 0-.5 .3-.3 .5-3.2 19.7-1 4.4-.3-1.1-.1-3-.3-22.5-.2-.5-.6-.4-.5 .1-.3 .3 .4 29.5 .2 .5 .6 .5 0 .5-.6 2.5-1.3 1.8 0 14.6-3.5 .6-4.5-.3-43.5-.3-9.9 1.4-2-.2-7.5-1.5-4-.5-5.5 0-9 .6-1.5-.3-1-.9-1-1.5-2.2-4.5-3.6-6.5-4.7-11.7-2.5-9.2-.5-2.5 0-1.1 .5-.4 .5 .3 3.1 2.6 1.8 1 5.6 .9 2.5 .9 2 1.5 2.5 2.6 7 5.1 1.5 .5 1-.1 1-.4 .7-.5 .7-1 .3-1.5-.4-2 2-8 0-.5-.8-1-2.5-4-2-2.5-8.5-9.6-1.5-1.3-2.5-1.6-6.5-2.2-1-.2-7.5-3.4-5-2.6-8.5-3.6-4.5-2.4-1-.3-1.5-.1-.9 .3-.6 .4-.4 .6-.3 1 0 1 .4 1.5 1 1.5 4.6 4 7.5 7 1.6 2 .9 2 1.2 4 .6 1 2.1 2.5 .1 .5-.1 .5-.7 .5-3 1.2-1-.4-2.3-2.3-1.6-1-12.6-5.8-9.5-4.6-14-7.2-13-8.9-1.7-1.5-1.5-2-.8-1.5 0-1 .2-1 .9-1 1.5-.8 2-.5 2.9 .1 6 1.4 5.5 1 5 .6 9.5 2.1 3 .2 1-.3 .5-.3 .2-.5-.3-1-1.7-3.5-1.7-4.2-1-2-1.5-1.6-3-1.5-4.5-1.5-5-1.4-10-2.1-9.4-1.2-4.5-.2-4 .1-4.5 .6-1.8 .5-.7 .5-.3 .5 .3 1 2.3 3.5 .4 2-.1 1-.6 1-1 .8-1.5 .6-4 .5-7 .1-7-.4-11.5-1.1-3.5-.1 0-10.9 15.5 .1 10.6 .4 5.9 .4 .5-.1 .5-.4 .4-.9 .1-1-.4-1.5-1.1-1-13-3.3-19-.7 0-16.6 4.5 1.4 4.5 1 8 1.2 12 2.2 23.5 10.2 1.5 .1 1.4-.6 .6-.4 .8-1 .3-1.5-.3-1.5-.8-1-.6-.4-11.9-6.2-3.5-2.1-3.5-2.5-6.3-5.3-4.7-5.3-2.5-1.7-4.1-1.5-5.9-1.2-8.5-1.1-2.5-.1-2 .3zM247.2 262l-.4 1 .2 1 2.4 3.2 1.6 2.8 1.1 2.5 1.8 2.7 1 1.2 4 3.6 8.6 7.5 1.4 1.5 1 1.5 1 3 .2 12 .3 3.5 .4 1.5 .8 1.5 .7 1 1.1 .9 1.5 .6 1.5 .3 4.5 .5 11.9 .3 2.5-.2 1.7-.4 .1-.5-2.5-3.5-5.5-6-3.9-9-.1-1.5 .4-1 .8-.9 1.5-.4 1.5 .5 .8 .8 4.2 8.1 4.5 4.4 4 4.2 1 .5 4 .6 4 1 16.5 5.3 4 .9 1.5 0 0-.5-1-1.5-3.5-3.5-8.5-4.3-8-4.3-3.5-3.8-2.9-3.6-2.6-5-1-1.5-.5-.5-2-1-.8-1-.4-1 .4-1.5 .8-.8 .5 0 1.1 .3 .6 .5 1.4 2 5.5 6.5 6.4 6.1 9.2 5.9 1.3 .6 .5 .1 .3-.2 0-.5-.3-1-3-5.9-5.6-8.6-6.9-8.5-3-3.2-3.5-4.2-1.5-1.4-1-.2-2 .5-1-.3-13.5-9-4.4-2.1-1.5-.4-1-.1-1 .4-.4 .5-.2 1 .1 1 1 5.6 .5 1.9 .6 1 .2 1-.4 1-.9 .7-1 .1-6.5-2.4-3.5-1.6-5.5-3-3.6-2.3-4.4-2.5-5.3-2.5-1.2-.2-.7 .2zM301.5 315.5l.3 1 .7 1 1.3 1 1 .1 2 0 3.1-.6 0-.5-5.6-3.6-1 0-.5 .2-1.1 .9zM559.6 196.9l0 17-4.5 1.4-4.5 1-8 1.2-12 2.2-23.5 10.2-1.5 .1-1-.3-1-.7-.8-1-.3-1 0-1 .3-1 .9-1 11.9-6.3 6-3.8 3-2.3 4.2-3.6 4.8-5.3 2.5-1.9 1.6-.8 2.4-.8 6-1.3 9-1.2 2.5-.1zM559.6 230.5l0 8-19.5 .2-12 .7-1-.1-.5-.4-.4-.9-.1-1 .2-1 .6-1 .7-.5 13-3.3zM559.6 249.4l0 13.5-9 2-13 2.2-11.5 1.5-11.5 1.2-10.9 6.8-5.4 4.4-5.1 5.9-5.5 5.4-4 3.6-4.8 3.6-10.2 5.2-13.4 4.8-5.6 0-1.5 .3-.5-.2-.5-.6 0-.5 .3-.5 3.8-4 6.4-5.5 .5-.6 .4-.9 .2-1.5-.3-1.5-.8-2.5 .1-1 .4-.5 3.5-1.9 6.5-2.9 11-5.4 15-7.7 12.9-8.9 1.7-1.7 1.7-2.5 .3-1-.2-1-.5-1-.5-.5-2-1-3-.4-1.9 .3-2 .6-6.5 1.3-7.5 1-8.5 1.9-3 .4-2-.3-.6-.3 0-1 1.9-4 2.2-5.3 1.1-1.7 1.9-1.4 3.5-1.4 4.5-1.4 5.5-1.5 5.5-1.2 5.5-.9 4.9-.6 5-.3 4.5 0 5 .7 1.8 .5 .7 .5 .3 .5-.3 1-2.3 3.5-.4 2 .1 1 .6 1 1 .8 1.5 .6 4 .5 7 .1 7-.4 11.5-1.1zM431.4 262l.4 1-.2 1-2.4 3.2-1.6 2.8-1.1 2.5-1.8 2.7-1 1.2-4 3.6-8.6 7.5-1.4 1.5-1 1.5-1 3-.1 12.5-.3 3.5-.5 1.5-.5 1-.7 1-1.4 1.1-2.5 1.1-4.5 1-11.9 1.3-6.5 .3-1 .3-1.8 1.4-1.2 .4-2 .1-8-.3-1.6-.2-.5-.5 .7-.5 6.9-2.6 4-2.2 1-.1 2.5 .9 1.5-.4 2-1.1 7.2-8 3.9-9 .1-1.5-.4-1-.8-.9-1.5-.4-1.5 .5-.8 .8-4.2 8.1-4.5 4.4-4 4.3-1 .4-4 .6-4 1-16.5 5.3-4 .9-1.5 0 0-.5 1-1.5 3.5-3.5 8.5-4.3 8-4.3 3.1-3.4 3.3-4 2.6-5 1-1.5 .5-.5 2-1 .8-1 .4-1-.4-1.5-.8-.8-.5 0-1.1 .3-.6 .5-1.4 2-5.5 6.5-6.4 6.1-9.2 5.9-1.3 .6-.5 .1-.3-.2 0-.5 .3-1 3-5.9 5.6-8.6 6.9-8.5 3-3.2 3.5-4.2 1.5-1.4 1-.2 2 .5 1-.3 13.5-9 4.4-2.1 1.5-.4 1-.1 1 .4 .4 .5 .2 1-.1 1-1 5.6-.5 1.9-.6 1-.2 1 .4 1 .9 .7 1 .1 6.5-2.4 3.5-1.6 5.5-3 3.6-2.3 4.4-2.5 5.3-2.5 1.2-.2 .7 .2zM468.3 263l.5 1 .1 1.5-.4 1.5-.6 1-13.2 12.3-1.4 2.2-1.2 4-.7 1.5-3.2 3.5-7.5 5.4-12.2 9.6-.8 .2-5.3 2.8-1.7 1.3-1 .4-1 .2-1-.1-1-.4-1.1-.9-.8-1.5 0-1.5 .5-1.5-1.9-8 0-.5 .8-1 2.5-4 1.6-2 9.4-10.6 3.5-2.4 6.5-2.2 1-.2 7.5-3.4 5-2.6 8.5-3.6 4.5-2.4 1-.3 1.5-.1 1 .3zM119 262.9l9 2 13 2.2 11.5 1.5 11.5 1.2 10.9 6.8 5.4 4.4 5.1 5.9 5.5 5.4 4 3.6 4.8 3.6 10.2 5.2 13.5 5 5.5 .6 2.3 1.2 .7 .9 2.7 4.6 5.1 11 1.3 2 .6 1.5 .2 2-.4 2.5-.5 1-1.7 2-.5 1.5 0 1.5 .2 1.5 .7 1.5 .7 1 1.9 1.5 3.2 1.3 12 2.6 11 2.9 5.5 3 2 1.3 2 2 1 .6 1.8 .8 1.2 1 4.3 6.5 1.1 1 .3 .5 .1 1-.4 1-.5 .5-1 .4-9.9-.2-6.5-1.3-10-1.5-6.5-2.2-2.5-.6-8-1-10-.1-17-1.9-27.5-4.9-10-1.4-14.4-.9-11.5-1.5-8.5-.9-10-.6-14.5-.4 0-24.4 6 .2 7 .5 10.5-.4 13.5 .8 10 .1 6 .3 19.9 5.2 5.5 1.7 20.5 5 13 1.4 .8-.4 .5-.5 .2-1-.5-1-2.5-2.2-1.5-1.1-6.5-3.8-9-4.2-9.1-5.7-5.4-3.6-7.2-5.4-3.8-4-3-2.5-5.8-4-5.6-3.3-3.3-.7-6.5-1-27.7-3.4-6-.3-10 .3zM559.6 297.1l0 33-6 .2-7 .5-10.5-.4-13.5 .8-10 .1-6 .3-19.9 5.2-5.5 1.7-20.5 5-12.5 1.4-1-.2-.8-.7-.2-1 .5-1 3.5-3 7-4.1 9-4.2 9.5-5.9 5.5-3.8 6.7-5 3.8-4 3.7-3 5.3-3.6 5.4-3.2 3.3-.7 6.5-1 27.7-3.4 6-.3zM281.5 354.5l.4-1.5 .6-1 1.2-1 1.6-.7 6-1 2.5-.1 4.5 .3 1.5-.1 4.6-1.9 3.4-.8 4.5-.2 6 .8 2 .1 6.5-.5 8 .2 1-.3 1.5-1.2 .5-.1 1 .2 .5 .4 0-11.7 2 .3 3.5 0 4-.5 11.5 .1 30.5-1.1 4.9 .5 5 .8 5-1.1 5-.8 4.5-.4 4.5 .1 4.5 .4 8.5 1.5 1.5 .4 1 .6 3.7 3.3 .9 1.5 .2 1.5-.2 1.5-.5 1.5-.6 1-1.5 1.5-2.5 1.2-4.7 1.3-8.8 1.9-11 2.9-6.5 3.6-1 .7-2 2-3.5 1.9-4.8 7-1.1 1-.4 1 .1 1 .8 1 .5 .3 1 .1 9.4-.2 6.5-1.3 10-1.5 6.5-2.2 2.5-.6 8-1 10-.1 17-1.9 27.5-4.9 10-1.4 14.4-.9 11.5-1.5 8.5-.9 10-.6 14.5-.4 0 17.3-34.5 .4-11.5 1.2-11.9 .6-1.9 .5-1.1 .6-1 .8-.9 1.1-.8 1.5-.4 1.5-.4 4.5-155.9 0 0-30-1.2 11-1.1 7-.1 2 .3 3-.2 .5-.7 .8-1 .7-2.4 1-3.6 .8-3.5 .3-3-.2-12.6-1.4-3.2-.5-1.3-.5-.7-.5-.2-.5 0-.5 .5-.8 2-1.2 4-1.4 .5-.6-.1-.5-.9-1.6-5.7-6.4-1.3-3-.5-.7-.5-.3-3.5 .7-8 .7-2-.1-1.5-.3-2-.9-1-.9-1.3-2.7-1.8-2zM330.3 353.5l-1-.2-4 .1-1 .4-.5 .5-1 2.2-1.4 4.5-.6 2.7-.1 2.3-.4 .4-.9 2.6-.6 .8-.5 .2-1-.1-.5-.2-.4-.7-.1-.5 1.8-9 .9-3.5 .1-1-.3-.6-.5 0-3.5 .8-6 .5-1.2 .3-.3 .5-.1 1.5 .2 3 .4 2 1.5 2 3.4 3 2.5 3 .7 2 .4 .4 1 .2 8.5 .1 1-.2 1-1 .6-1.5-.2-.5-.9-.5-.2-.5-.1-1 .4-1.5 .8-1.5 1.1-1.4 2-1.4 1-2.1 1.2-3.6-.2-.6-2 1.9-.5 .1-.7-.4-.4-.5-.1-1 .8-2.5zM336.3 358.5l-5 14 0 1.4 .4 .6 .6 .4 1.5 .5 .5-.1 .5-.9 .5-2.1 1.3-13.3zM341.6 378l1.2 .9 2.5 .9 3 .5 3.5 .3 8-.1 10-.9 2.7-.6 .8-.5 .4-.5 0-.5-.4-.8-2-1.2-4-1.4-.5-.6 .1-.5 .9-1.6 5.7-6.4 1.3-3 .5-.7 .5-.3 3.5 .7 8 .7 2-.1 2-.5 1.5-.7 1-.9 1.3-2.7 1.8-2 .2-1-.4-1.5-.6-1-.9-.7-.9-.6-1.5-.5-6-1-6.5 .3-1.5-.1-4.9-1.9-3.1-.7-4.5-.1-7 .8-7.5-.5-8 .2-1-.3-1.5-1.1-.5-.2-1 .1-.5 .4 0 8.4 1.2 11 1.1 7 .1 2-.3 2.5zM345.2 356.5l.1-.1 1.5 1.6 1 .4 .7-.4 .5-1-.1-1-.7-2 .1-.5 1-.2 4 .1 1 .4 1 1.4 1.8 5.3 .7 3.2 .1 2.3 .4 .4 .9 2.6 .6 .8 .5 .2 1-.1 .5-.2 .4-.7 .1-.5-1.8-9-.9-3.5-.1-1 .3-.6 .5 0 3.5 .8 6 .5 1.2 .3 .3 .5 .1 1-.1 3-.5 2.6-1.1 1.4-3.8 3.5-2.5 3-.7 2-.4 .4-1 .2-9 .1-1.1-.7-.9-1.6 0-.7 1-.7 .3-1-.1-1-.5-1.5-1.7-2.4-2-1.4-1-2.1-1-2.7zM352.8 360.7l-.3 .8 .1 1.5 .4 2.5 .5 1.5 .7 1 .6 .3 1 0 .5-.2 1-1.1 .3-.5 .1-1-3.4-3.8-1-.9zM342.3 358.5l5 14 0 1.4-.4 .6-.6 .4-1.5 .6-.5-.2-.5-.9-.5-2.1-1.3-13.3zM325.8 360.7l.3 .8-.1 1.5-.4 2.5-.5 1.5-.7 1-.6 .3-1 0-.5-.2-1-1.1-.3-.5-.1-1 3.4-3.8 1-.9zM119 371.8l34.5 .4 11.5 1.2 11.9 .6 1.9 .5 1.1 .6 1 .8 .9 1.1 .8 1.5 .4 1.5 .4 4.5-64.4 0z"/>
<path fill="#ffaa0a" fill-rule="evenodd" d="M210.8 163.5l7.7 0 5.4 5.2 3 1.7 1 .8 .5 .1 2 1.1 1 .8 .5 .1 2 1.2 5.3 9 0 1.5-.3 .5-1 .7-1-.1-3.5-2.4-1-.9-.5-.1-1-.9-.5-.2-1-.8-.5-.2-1.1-1.1-.2-.5-6.3-7.5-5.4-3.7-.5-.1-1-.9-.5-.1-1.5-1-1.2-1.2zM540.1 170.5l-.1-2.5 .6-1.5 2.5-2.5 1-.5 8.1 0 .9 1 .2 1.5-.2 2-.8 1-.2 .5-.5 .2-1.5 1.3-1 .5-2 .6-4.5 0-1.5-.6zM204.4 180.5l.5-.2 1.5 0 1 .5 1.7 1.7 .3 1-.3 1-.7 .2-1 .1-1-.3-.5-.3-1.5-1.7-.2-1zM122.9 184.5l.4-.5 .1-.5 1.1-1 2.5-1.1 3-.1 3.5 .1 4 1 2 1.1 2.5 2.5 .5 1 .2 2 .3 .5-.5 2-1.5 1.5-1 .2-.5 .4-1 .1-6.5-.1-4-1.1-2-1-2.5-2.5-.6-1.5zM528.2 183l.5 1 .1 1-.1 1-.5 1-2.4 2.5-.2 .5-6 6-.5 .1-1 .9-.5 .1-1 .9-1.5 .6-1 .9-.5 .1-1 .9-.5 .1-1 .9-.5 .1-1.5 1.4-.5 .1-1.5 1.4-.5 .1-1.5 1.4-.5 .1-.9 .9-.5 .1-1.5 1.4-.5 .1-2.5 1.9-1.5 .7-2.5 1.8-.5 .1-.5 .4-1.5 .7-1 .8-.5 .2-5.9 5.8-.1 .5-6 6-.5 .1-1 .9-.5 .1-1 .9-.5 .1-1 .9-.5 .1-1 .9-.5 .1-1 .9-.5 .1-1 .9-.5 .1-1 .9-.5 .1-1 .9-.5 .1-1 .9-.5 .1-1.5 .9-1 .1-.5 .4-1 .1-.5 .4-1 .1-.5 .4-1.5 .2-.5 .3-1 .1-.5 .4-1.5 .2-.5 .3-1 .1-.5 .4-1.5 .2-.5 .3-1 .2-.5 .4-2 0-1-.6-.6-1 0-2.5 1.6-1.5 .5-.1 1.5-1.4 .5-.1 1.5-1.4 .5-.1 1.5-1.4 .5-.1 1.5-1.4 .5-.1 1.5-1.4 .5-.1 1-.9 .5-.1 1-.9 1-.1 .5-.5 .5 0 .5-.5 .5 0 .5-.5 .5 0 .5-.5 .5 0 .5-.5 1.5-.5 1-.9 .5-.1 .5-.4 .5-.1 .5-.4 .5-.1 .5-.4 .5-.1 .5-.4 .5-.1 .5-.4 .5-.1 .5-.4 .5-.1 .5-.4 1.5-.6 1-.9 1.5-.6 1-.9 1.5-.7 1-.8 1.5-.7 1-.8 2.5-1.2 1.3-1.3 .1-.5 1.9-2 .2-.5 2.8-3 .2-.5 4.3-4.5 .2-.5 .5-.5 .5-.1 12.9-12.9 .5-.1 .5-.5 .5 0 .5-.4 1.5-.1 .5-.4 1.5-.1 .5-.4 1.5-.1 .5-.4 1-.1 .5-.4 2-.2 .5-.3 1-.2 .5-.3 1.5 0 1 .4zM275.4 187l1-1.1 2-1 4.5-1 4.4-.2 5 .2 .5 .3 2 .2 .5 .3 1.5 .3 1.5 .9 1.2 1.1 0 1-1.2 1.1-1.5 .9-1.5 .3-.5 .3-2 .2-.5 .3-5 .2-4.4-.2-4.5-1-2-1-1-1.1zM184.4 189.9l1-.4 1 0 .5 .3 1 .1 2.5 1.5 1.6 1.6 1 2 .2 1.5-.2 1.5-.6 .5-1 .2-.5 .4-.5-.1-.5-.2-1-.2-1-.5-1.5-1.1-1-1-1.6-2.5-.4-2 0-.5zM473.2 197l.1 1.5-.1 1.5-2.9 3-.1 .5-3.4 3.5-.1 .5-3.9 4-.1 .5-3.9 4-.1 .5-2.4 2.5-.1 .5-3.5 3.5-.5 .1-1 .9-.5 .1-1 .9-.5 .1-1 .9-.5 .1-1 .9-.5 .1-1.5 1.4-.5 .1-1 .9-.5 .1-1.5 1.4-.5 .1-1.5 1.4-.5 .1-1 .9-.5 .1-1.5 1.4-.5 .1-1.5 1.4-.5 .1-1 .9-5.5 2.6-4.5 2.4-1.5 .1-1-.6-.6-1 .1-2 .8-1 .7-1.5 .4-.5 .1-.5 .4-.5 .1-1 .9-1.5 .1-1 .5-.5 0-.5 .5-.5 0-.5 .5-.1 .5-.4 1-.1 .5-.4 1-.1 .5-.4 .5-.1 .5-.4 .5-.1 .5-.4 .5-.1 2-1.9 .5-.1 1.5-1.4 .5-.1 1-.9 .5-.1 .5-.4 .5-.1 .5-.4 .5-.1 .5-.4 .5-.1 .5-.5 .5 0 .5-.5 1.5-.6 1-.8 .5-.1 .5-.4 1.5-.6 .5-.5 .5-.1 1-.8 .5-.1 3.4-3.4 .1-.5 4.4-4.5 .1-.5 5-5 .5-.1 1.5-1.4 .5-.2 1.5-1.3 .5-.2 2-1.8 .5-.2 1-.9 1.5-.1 1.5 .2zM540.6 205l.4-.5 0-.5 1.6-1.5 1-.5 1.5-.2 .5-.4 4 0 .5 .4 1 .1 1.6 1.6 0 2-1.6 1.6-.5 .1-1.5 .9-1.5 .1-.5 .3-2 0-.5-.3-1.5-.2-.5-.4-.5-.1-1.1-1 0-.5-.4-.5zM155.4 205l1.1-1.1 2.5 0 3 1 1 .5 1 .8 .5 .1 2.6 2.2 2 2.5 .1 .5 .3 .5 .1 2-.6 .6-.5 .1-.5 .3-1.5 0-.5-.3-1.5-.1-4-2-2.6-2.1-2-2.5-.5-1.5zM371.2 221.5l.5-.5 0-.5 1.6-1.5 .5-.1 1.5-.9 1-.1 .5-.5 1-.1 .5-.4 1-.1 .5-.3 2-.2 .5-.3 3-.2 .5-.3 7.5-.2 5.9 .2 .5 .3 2.5 .2 .5 .3 2 .2 .5 .3 1.5 .2 .5 .4 1 .1 .5 .4 .5 0 1.5 1 6 .1 .5 .4 .5 0 .5 .5 .5 0 2.1 2.1 0 .5 .5 .5 0 .5 .4 .5 0 4.5-3.5 3.5-.5 .1-1 .9-.5 .1-.5 .4-1 .2-.5 .4-1 .1-.5 .3-5 0-.5-.3-1-.2-.5-.4-.5-.1-1.5-1.5-.1-.5-.4-.5-.1-.5-.4-.5-.1-1.5-.4-.5-2.5 .2-.5 .3-10.9 .1-2.5-.1-.5-.3-3-.2-.5-.3-2-.2-.5-.3-1-.1-.5-.4-1-.1-.5-.5-1-.1-1.5-.9-.5-.1-1.6-1.5 0-.5-.5-.5zM132.2 220.5l.3-.3 1.5 0 .3 .3 0 .5-.3 .3-1.5 0-.3-.3zM187.4 226.5l.5-.7 2 0 1.5 .6 2.1 1.6 1 1.5 0 .5-.6 .6-1.5 .1-1.5-.5-1-.5-1.7-1.7-.8-1zM130.9 245l1.1-1 1.5-.3 .5-.3 5.5-.1 1 .1 .5 .3 1.5 .1 1.5 .6 1 .5 .5 .6 0 1-.5 .5-2 .7-6.5 0-3-.6-.5-.3-.5-.1-1.1-.7-.5-.5zM513.7 246.5l0 1-.5 .5 0 .5-1.6 1.5-.5 .1-.5 .4-1 .1-.5 .4-2 .1-.5 .4-2.9 .2-.5 .3-1 .1-.5 .4-1 .1-.5 .4-2 .2-.5 .3-2.5 .2-.5 .3-5 .2-.5 .3-1.5 0-.5-.4-5.5-.1-.6-.5 0-1 2.1-2 .5-.1 1-.9 .5-.1 .5-.4 .5-.1 1.5-.9 1-.1 1.5-.9 1.5-.1 .5-.4 1-.1 .5-.4 1.5-.1 .5-.4 2-.1 .5-.4 3-.1 .5-.4 8.9 0 .5 .4 1 .1 .5 .5 .5 0 .1 .5zM243.8 247l1.1-1.1 1-.6 1.5-.4 1.5 .1 1 .3 3 1.7 1 .8 2.5 1.2 1 .8 .5 .1 .5 .4 1.5 .7 2.5 2.5 .2 .5 6.3 6.5 .7 1 2.3 2.5 .2 .5 2.8 3 4.6 6 0 1-.6 .5-.5 0-3-1.5-4-2.4-1-.8-.5-.1-1-.9-.5-.1-1-.9-.5-.1-7-4.9-.5-.1-.5-.4-6.5-3.2-1-.8-2-1.1-1.5-.6-.5-.4-1-.2-2.1-2-.1-.5-.9-1-.1-1-.3-.5-.1-2 .3-.5 .2-1zM273.3 246.5l.6-.6 .5-.1 2.5 0 1.5 .5 2.5 1.6 2.5 2.6 1 1.5 .5 2 0 .5-1 1.1-3 0-.5-.3-1-.3-3-2-1.6-1.5-1.5-2.5-.2-1.5zM207.3 249l1.6-1.5 1.5-.2 1 .1 .5 .3 3.5 .3 .5 .2 3 .2 .5 .4 3 .1 .5 .4 2.5 .1 3 1.6 1 .8 .5 .1 .5 .4 .5 .1 3.5 1.9 2.5 1.1 .5 .4 .5 .1 .5 .4 1 .2 3 1.5 .2 1 .4 .5 .1 1.5 .3 .5 .3 1.5 1 2.5 2.8 3 .2 .5 .9 1 2 3 1.1 2 1 1 .7 1.2 13.1 13.3 .2 1-.8 .7-1-.6-12-12.9-2.5-2.4-.5-.2-1-.7-.5-.2-4.5-2.5-9-4.5-2.5-1-.5-.4-.5-.1-.5-.4-1-.3-2.5-1.2-2-.7-1.5-.8-1-.3-4-1.9-1-.9-.5-.1-3.5-2.9-.5-.2-1.5-1.3-3-2-1.2-1.2-.5-1zM553.6 257l0 1.5-2.5 2.5-.5 .1-1.5 .9-1 .1-.5 .4-1 .2-.5 .4-1 .1-.5 .3-1 .2-.5 .3-1.5 .2-.5 .3-2 .2-.5 .3-2 .2-.5 .3-2.5 .2-.5 .3-3.5 .2-.5 .3-9 .1-3-.1-.5-.3-.5 .4-3.5 1.5-2.5 1.5-.5 .1-1 .8-1.5 .6-.5 .4-.5 .1-.5 .4-.5 .1-.5 .4-.9 .1-1.5 .9-.5 .1-.5 .4-.5 0-.5 .5-.5 0-.5 .5-.5 0-.5 .5-1 0-.5 .5-.5 0-.5 .5 0 1-.5 .5 0 .5-.9 1-.1 .5-1.4 1.5-.1 .5-6 6-.5 .2-2.5 2.3-.5 .1-1.5 1.4-.5 .1-1 .9-.5 .1-1.5 1.4-.5 .1-1 .9-.5 .1-1 .9-.5 .1-1 .9-1.5 .6-1 .9-.5 .1-2.5 1.9-.5 .1-.5 .4-1.5 .6-.5 .4-.5 .1-.5 .4-.5 .1-.5 .4-.5 .1-.5 .4-.5 .1-.5 .4-1 .2-2.5 1.3-1 .1-.5 .4-1 .1-.5 .4-2.5 .1-.5 .4-.5-.5 7-7 .8-.5 .2-.5 .8-1 .2-1 .3-.5 .2-2 .3-.5 .2-1 2.5-2.5 .5-.1 2.5-1.9 .5-.1 1-.9 2.5-1.2 1-.8 11-5.5 1-.2 1.5-.8 1-.2 1.5-.8 1-.1 .5-.4 1-.1 .5-.4 1-.1 .5-.4 1.5-.1 .5-.4 2 0 .9-1 .1-.5 5.4-5.5 .6-.1 2.9-2.9 .5-.1 1-.9 .5-.2 4.5-4.8 1-.2 .5-.3 2-.1 1-.9 .5-.1 .5-.4 1-.1 1.5-.9 1.5-.1 .5-.4 1-.1 .5-.4 1.5-.1 .5-.4 2.5-.2 .5-.3 2.5-.2 .5-.3 5.5-.2 .5-.3 6 0 .5 .4 3.5 .1 .5 .4 1.5 .1 .5 .4 1 .1 .5 .4 .5 .1zM172.9 258.5l.6-.6 .5-.1 2.4 0 1 .4 1.5 .3 .5 .2 1.5 .2 .5 .3 1.5 .2 .5 .3 1.5 .2 .5 .3 4 .7 .5 .3 1 .2 .5 .3 1 .2 1.5 .8 1 .2 1.5 .8 1 .2 2.5 1.4 .5 0 .5 .4 .5 .1 .5 .4 .5 .1 .5 .4 .5 .1 .5 .5 1.5 .6 1.5 1.1 2.5 2.2 .5 .2 5 4.3 .5 .2 3 2.8 .5 .2 3.3 3.1 .4 1-.1 1-.5 1-1.1 .7-1.5 0-1.5-.5-.5-.4-2-.6-.5-.4-2-.6-1.5-.9-2-.7-6-2.9-.5-.4-.5-.1-.5-.4-.5-.1-.5-.4-.5-.1-4-2.1-2-1.3-2.5-1.2-2-1.3-1.5-.7-7.5-4.8-6.9-4.1-1.3-1.2zM466.7 265l.1 1.5-.6 1.1-.5 .4-.5 .2-1.5 1.3-.5 .2-2.5 2.3-.5 .2-5 4.8-.5 .1-3.4 3.4-.1 .5-2.5 2.5-.5 .1-13.5 13.4-.5 .1-8 7.9-.5 .1-1 .9-.5 .1-1 .9-.5 .2-3 2.4-1.5 0-.5-.1-.5-.5-.1-1.5 .1-1 .3-.5 .2-5 .4-.5 .1-1 .4-.5 .1-.5 1.9-2.5 .1-.5 .9-1 .6-1.5 .9-1 .1-.5 .9-1 .1-.5 .9-1 .1-.5 1-1 .5-.1 8.5-8.4 .5-.1 1-.9 .5-.1 1.5-.9 1.5-.1 .5-.5 .5 0 .5-.5 1.5-.5 .5-.4 .5-.1 .5-.4 1.5-.6 .5-.4 1-.1 .5-.5 .5-.1 1-.8 .5-.1 2.5-1.5 .5 0 .5-.4 .5-.1 .5-.4 .5-.1 .5-.4 .5-.1 2.5-1.4 1-.2 .5-.4 .5-.1 1-.8 .5-.2 1-.8 .5-.1 .5-.4 2 0zM427.2 265.5l0 1.5-.4 .5-.5 1.5-.4 .5-.1 .5-3.6 3.5-.5 .1-2.5 2.4-.5 .1-1.5 1.4-.5 .1-1.5 1.4-.5 .1-1 .9-.5 .2-1.5 1.3-.5 .1-1 .9-.5 .2-2.5 1.9-.5 .2-1.5 1.2-2.5 1.7-2.5 1.1-3.5 2-.5 0-.8-.8 0-1 .5-1 .7-3 .3-.5 .2-1 7.1-6.6 .5-.2 1-.8 7.5-3.5 3.5-1.9 .5-.1 .5-.5 .5 0 2.5-1.9 1.5-.6 1-.9 .5-.1 1.5-.9zM394.8 266.5l.1 1.5-.6 1.5-.8 1-.1 .5-3.6 3.6-1.5 1-1.5 .6-1.5-.1-.6-.6 0-.5 .3-.5 .1-1 .6-1 1.9-2.5 1.7-1.5 2.5-1.6 1-.5zM123.5 274l1.5-1.5 .5-.1 1.5-.9 1.5-.2 .5-.3 3.5-.3 .5-.2 5 0 .5 .2 5.5 .3 .5 .2 3 .2 .5 .3 2 .1 1 .4 2 .2 .5 .3 2 .3 .5 .2 1 .2 .5 .3 1.5 .2 .5 .4 1 .1 .5 .4 1 .1 .5 .4 .5 .1 .5 .4 1 .1 1.5 .9 .5 .1 2 1.5 4 4.1 .1 .5 1.9 2 .2 .5 4.8 5 .2 .5 12.2 12.3 2.5 1 .5 .4 2 .7 1.5 .8 2 .7 2.5 1.4 1 .2 1.5 .8 .5 .1 .5 .4 1 .1 .5 .4 2 .6 .5 .4 2.5 .7 1.5 .8 1 .2 .5 .3 .5 .1 .5 .4 1 .2 1.5 .8 1 .1 .5 .4 .5 .1 1 .9 1.5 .7 1 .8 .5 .2 1 .8 .5 .2 1 .8 .5 .2 3.5 2.5 .7 1 2.8 3 .2 .5 3.9 4 .5 1.5-.5 1.5-.6 .6-1.5 .3-3-.3-1-.3-5-.3-.5-.3-2-.2-1-.8-.5-.1-2-1.3-.5-.1-.5-.4-.5-.1-.5-.4-.5-.1-.5-.4-.5-.1-.5-.4-.5-.1-.5-.4-.5-.1-.5-.4-1.5-.6-.5-.5-.5-.1-1-.9-.5-.1-1-.9-.5-.1-1-.9-.5-.1-1-.8-.5-.2-1-.8-.5-.2-1-.8-.5-.2-1-.9-.5-.1-1-.9-2-1.2-1.5-1.2-.5-.2-2-1.9-.5-.2-5-4.2-.5-.2-1.5-1.3-.5-.2-2-1.8-.5-.2-4-3.3-.5-.2-5-3.8-.5-.2-1-.9-3.4-1.7-1-.7-.5-.1-.5-.5-2.5-1.1-.5-.4-4 0-.5 .3-3 0-.5-.3-5-.1-1-.3-3-.3-.5-.3-2-.1-.5-.4-2-.2-.5-.3-1-.1-.5-.4-1.5-.2-.5-.3-2-.6-.5-.4-1-.2-2.5-1.3-.5-.1-.5-.4-1.5-.7-1-.8-.5-.2-1-.8-.5-.2-4.5-4.5-.1-.5-.5-.5 0-.5-.9-1.5 0-2.5 .4-.5zM544.2 310l0 3.5-.5 .5-.1 1-.9 1-.1 .5-3 3-.5 .1-1 .9-.5 .1-1 .9-.5 .1-.5 .5-.5 0-.5 .5-.5 0-1.5 .9-1 .2-.5 .3-.5 .1-.5 .4-1 .1-.5 .4-1.5 .1-.5 .4-1.5 .1-.5 .4-2 .1-.5 .4-5 .1-.5 .4-4 0-.5-.4-6.5 0-1 .9-.9 .1-.5 .4-1 .1-.5 .4-1 .1-.5 .4-1 .1-.5 .4-1 .1-.5 .4-1 .1-.5 .4-1 .1-.5 .4-1 .1-.5 .4-1 .1-.5 .4-1 .1-.5 .4-1 .1-.5 .4-1 .1-.5 .4-1 .1-.5 .4-1 .1-.5 .4-1 .1-.5 .4-1 .1-.5 .4-1 .1-.5 .4-1.5 .2-.5 .3-1 .1-.5 .4-1.5 .1-.5 .4-1.5 .1-.5 .4-1.5 .1-.5 .4-1 .1-.5 .4-1.5 .2-.5 .3-1 .1-.5 .4-1.5 .2-.5 .3-1 .1-.5 .4-1.5 .2-.5 .3-1.5 .2-.5 .3-1.5 .2-.5 .3-4 .8-.5 .2-1.5 .3-.5 .2-1 0-.5-1 .5-.6 .5-.2 1.5-1.2 1.5-.7 1-.8 2-1 1-.2 1-.8 .5-.1 1.5-.9 1-.2 2.5-1.3 1-.2 1.5-.8 1-.2 .5-.4 1.5-.5 1.5-1 .5-.1 1-.8 1.5-.6 .5-.5 .5 0 1-.9 1.5-.6 .5-.5 .5 0 2.5-1.9 1.5-.6 1-.9 1.5-.6 2.5-1.9 1.5-.6 2.5-1.9 1.5-.6 1-.9 .5-.1 .5-.4 .5-.1 .5-.4 .5-.1 .5-.5 .5 0 .9-.9 .1-.5 1.4-1.5 .1-.5 1-1 .5-.1 2-1.9 .5-.1 .5-.4 .5-.1 .5-.4 .5-.1 .5-.4 .4-.1 1.5-.9 1-.1 1.5-.9 1.5-.1 .5-.4 1-.1 .5-.4 2-.1 .5-.4 2-.1 .5-.4 2.5-.1 .5-.4 6-.1 .5-.4 3 0 .5 .3 4.5 .2 .5 .3 1.5 .1 .5 .4 1 .1 .5 .4 1 .2 .5 .4 .5 .1 1 .9 .5 .1 1 1 .1 .5 .5 .5 0 .5zM242.3 305.5l1.1-1.1 1-.2 1.5 .1 1 .6 2 2.4 .5 .1 1.5 1.3 .5 .2 1 .8 .5 .2 2 1.9 .5 .1 2.5 2.4 .5 .2 2.5 2.4 1 .4 1.5 .2 .5 .3 3.5 .7 .5 .3 1 .1 .5 .3 1.5 .2 .5 .4 1.5 .1 3 .1 .5 .2 18.9 .3 .5 .2 4 .2 1 .3 4 .2 .5 .3 4 .2 1 .3 8.5 .7 .5 .3 1.5 .2 1 .3 1.5 .2 .5 .3 1.5 .1 1 .4 1.5 .2 .5 .3 2 .2 5.5 1.8 3.5 1.9 0 2.8-3 1.5-2 .1-9.5-.2-6-.4-16.5-.1-6-.4-8.5-.3-8.9 .5-1-.3-4-.3-.5-.2-2.5-.1-1-.4-1.5-.2-.5-.3-2-.2-.5-.3-2-.2-.5-.3-2-.3-.5-.3-1.5-.1-.5-.4-1.5-.1-.5-.4-1-.1-1.5-1-2.5-2.6-.2-.5-5.4-5.5-.5-1-.1-1-.4-.5-1.1-3.5-.4-.5-.2-1.5-.3-.5-.2-1-.3-.5-.4-1.5zM339.3 338.5l.5-.7 3-1.1 6-.8 3 .2 8.5 .1 16.5-.4 13.5 .1 1 .3 2.5 .2 .9 .3 1.5 .1 1 .4 3.5 .5 5 0 1.5-.7 1-.3 .5-.3 1.5-.2 1-.4 5.5-.1 2 .2 .5 .3 1.5 .2 3 1.5 1.1 1.1 .1 .5 .4 .5 0 2-.4 .5-.1 .5-1.1 1-1 .6-2 .9-1.5 .3-.5 .3-1.5 .1-4.5 .1-2.5-.2-.5-.3-1-.2-.5-.3-1-.2-1-.5-1.5-1.3-4.5 0-.5 .4-1 .2-.5 .2-7.4 1.7-12-.1-3-.3-7.5-.3-13 .1-3.5-.3-4-.1-4.5-1.1-3-1.9-1-1.1zM139.8 340.5l.1-.5 1.1-1.5 1.5-1 .5-.2 22.5-.1 3.5 .3 .5 .3 2 .1 .5 .4 2.4 .2 .5 .3 5 .6 .5 .3 2 .2 1 .4 2 .1 .5 .3 2 .2 1 .3 2 .2 .5 .3 1.5 .2 .5 .3 1.5 .3 .5 .3 5.5 1.2 .5 .3 1.5 .1 .5 .3 1.5 .2 .5 .3 1.5 .2 .5 .3 1.5 .2 .5 .3 1.5 .2 .5 .3 1.5 .2 .5 .3 1.5 .2 .5 .3 4 .7 .5 .3 2 .3 .5 .3 1.5 .1 .5 .4 1.5 .1 .5 .4 1.5 .1 .5 .3 2 .3 .5 .3 1.5 .2 .5 .3 1.5 .1 .5 .4 1.5 .1 .5 .3 2.5 .3 .5 .3 2 .2 .5 .3 2.5 .2 .5 .4 2 .1 .5 .3 2 .2 .5 .3 2.5 .2 .5 .4 2 .1 .5 .3 1.5 .2 .5 .3 1.5 .2 .5 .3 1.5 .2 .5 .3 1.5 .2 .5 .3 1.5 .2 .5 .3 1 .1 2.5 1.4 .5 .1 .5 .4 .5 .1 .5 .4 1 .2 .5 .4 .5 .1 .5 .4 .5 .1 .5 .4 .5 .1 .5 .4 2.5 1.1 1 .8 .5 .2 2.5 2.3 .5 .2 2.4 2.3 1 .6 .5 .6 .1 .5-.5 1-.6 .1-3.9-.1-.5-.3-5-.2-.5-.4-1.5-.1-.5-.4-1-.1-.5-.4-1.5-.1-.5-.4-1.5-.1-.5-.4-1.5-.1-.5-.4-1-.1-.5-.4-2.5-.1-.5-.4-3-.1-.5-.4-3-.1-.5-.4-2.5-.1-.5-.4-2.5-.1-.5-.4-2-.1-.5-.4-2-.1-.5-.4-2-.1-.5-.4-2.5-.1-.5-.4-2-.1-.5-.3-2.5-.2-.5-.3-1.5-.1-.5-.3-2-.2-.5-.4-2-.1-.5-.4-4-.6-.5-.3-2-.2-.5-.4-4.5-.7-.5-.3-1.5-.1-.5-.4-2-.2-.5-.3-1.5-.1-.5-.4-2-.2-.5-.3-1.5-.2-.5-.3-1.5-.1-.5-.4-2-.2-.5-.3-1.5-.1-.5-.4-2-.2-.5-.3-1.5-.1-.5-.4-2-.2-.5-.3-2.5-.2-.5-.3-3-.2-.5-.3-3.5-.2-.5-.3-3-.2-.5-.3-2.9-.1-1-.4-3-.2-.5-.3-3-.2-.5-.3-2-.1-.5-.4-2.5-.2-.5-.3-2-.2-.5-.3-2-.2-.5-.3-2-.2-.5-.3-2-.2-.5-.2-2-.2-.5-.3-2-.2-.5-.3-1.5-.2-1.6-1.1-1-1.5-.1-.5zM304.7 350.5l0-.5 1.1-1.1 2-.9 2-.2 4 .2 .5 .3 1 .1 .5 .4 1 .2 1.1 1 0 .5-.5 .5-1.6 1-1 .5-1.5 .3-.5 .2-1.5 .1-3.5-.1-.5-.3-1-.2-1-.4-.5-.5zM321.3 350l.5-.6 .5-.1 .5-.4 1-.1 .5-.3 1.5-.1 3.5 .1 .5 .3 1 .1 .6 .6 0 .5-.6 .6-1 .4-2 .2-4-.2-.5-.2-1-.2-.5-.5zM285.8 354l1.5-1.6 2-1 1.5-.4 4 0 .5 .2 1.5 .2 2.5 1 1.6 1.6 .2 2-.2 1.5-1.6 1.6-2 .9-3.5 .5-3.5-.5-2-.9-1-.9-.5-.2-.1-.5-.9-1zM397 359l0-.5 .7-.3 1 .2 .3 .6-.8 .7-.5 .1-.5-.2zM349.8 358.9l.5 .1 .1 .5 .9 1 .1 1 .4 .5 0 1-.5 .1-1.1-1.1-.5-1-.1-1-.3-.5zM366.3 359.5l.5-.1 1 .4 .7 .7 .1 .5-.1 1.5-1.2 1.2-1.5-.1-1.2-1.1-.1-1 .2-1 .6-.6zM379.2 366.5l1.6-1.6 1-.2 1.5 .1 .5 .1 1.2 1.1 .4 .5 0 1-.6 1.1-1 .6-1.5 .3-1.5-.3-1-.7-.6-1zM329.8 365.9l.1 .6-.4 1-.7 .7-.5 0 0-1.2 1-1.2zM436.6 377l.4-.5 .1-.5 .6-.6 2-1 1-.1 .5-.3 2-.1 2 .5 .5 .4 .5 .1 1.5 1.6 .1 2-2.1 2-2 .7-3 0-1-.1-.5-.4-.5-.1-.5-.4-.5-.1-1-1.1zM308.8 377.5l.5-.5 .5 0 .5-.5 1-.1 .5-.4 1.5-.1 .5-.4 3.5-.1 .5-.4 5.5 0 .5 .4 3.5 .1 .5 .4 1.5 .1 .5 .4 1 .1 .5 .5 .5 0 .5 .5 0 1-.5 .5-.5 0-.5 .5-1 .1-.5 .4-1.5 .1-.5 .4-8 0-.5-.3-4-.2-.5-.4-2.5-.1-.5-.4-1.5-.1-1-1zM392.2 383l.4-.5 0-.5 .9-1 .2-.5 3-2 3.5-1.2 3-.1 1.5-.4 5.5-.5 2.5 .1 1 .3 2.5 .2 .5 .3 1.5 .2 .5 .3 1 .2 .5 .3 1 .3 2.5 1.5 1.6 1.5 .1 .5 .4 .5 .1 2-33.8 0zM376.4 384l-.1 .5-30.7 0 .7-.5 1.5-.6 2-.3 1-.3 2.5-.2 1.5-.4 2.5-.1 1-.4 3.5-.1 1-.4 2-.1 4.5 .1 3.5 .5 2 .6 1 .7 .5 .5z"/>
<path fill="#ff870f" fill-rule="evenodd" d="M436.2 228.5l.3 .5-.1 .5-.7 1-1 1-2 1.3-1 .2-.5-.4 .3-1.1 1.7-1.8 1.5-1 1-.3zM491.6 251.5l.1-.5 1.3-1 1.7-.7 2-.5 3-.1 1 .3 .2 .5-.3 .5-.9 .7-3 1.1-2 .3-1.5 0-1-.2zM219 254.5l.7-.5 .7-.1 3 .2 3 1 3.5 1.6 4.1 2.3 3.5 2.5 1.1 1 .7 1 .5 1 0 .5-.4 .4-.5 .2-3.5-.6-3.5-1.2-5-2.1-2.9-1.7-2.6-2-1.9-2-.5-1zM543.3 259.5l-.6 1-2.4 1.5-3.2 1.1-4.5 .9-4 .3-3.5-.2-2.2-.6-.7-.5-.3-.5 0-.5 .7-1 2-1.3 3.5-1.2 4-.8 4.5-.3 3.5 .2 1.5 .4 1 .5 .5 .5zM186.4 264.5l2 0 3.8 1 4.7 1.9 5.5 2.7 4 2.4 4.1 3 3.4 3 .9 1 .2 .5-.6 .2-1-.2-3.2-1-6.3-2.6-6-2.9-5.2-3-3.6-2.5-1.8-1.5-.8-1-.3-.5zM134.6 278l.5-1 1.1-1 1.3-.6 2-.5 2.5-.2 3 .1 3 .4 3 .6 5 1.7 2 1 2.3 1.5 1.1 1 1.1 1.5 .6 1.5-.1 1-.4 1-1.1 1.1-1.5 .7-2 .5-2.5 .3-2.5-.1-5.5-.9-5-1.7-2-.9-2.4-1.5-1.7-1.5-1.2-1.5-.6-1.5zM485.7 282.7l.2 .3-.2 1-1.3 2-2.2 2.2-3 2.2-3.5 2-4 1.7-2.5 .6-1 0-.5-.4-.1-.3 .2-1 1.7-2.5 2.7-2.5 2.7-2 3.8-2.1 3.5-1.3 2-.3 1 .1zM219.2 324l.7-.3 1 .1 2.5 1 2.2 1.7 .5 1-.2 .5-1 .2-1-.2-2.3-1-1.9-1.5-.5-1zM271.6 326l.7-.5 2.7-.5 7.9-.5 12.4-.2 23 1.7 12 1.5 5.5 1.3 3.5 1.2 0 1.2-3.5 .9-3.5 .2-8-.2-9.5-1.1-8 .4-4.5-.1-5.5-.7-8-1.5-5.9-.5-4.4-.6-4.9-1-1.4-.5zM340.7 339.5l.6-.6 2.5-.7 5-.2 9 .1 6-.5 5 .5 21.5 .3 8.4 1 1.1 .6 .4 .5 0 .5-.6 1-1.4 .7-7.9 1.1-33-.4-8.5-.3-5-.8-1-.5-2-1.8zM309.2 350.5l.1-.5 1-.4 1 .1 .8 .3 .1 .5-1.4 .5-1-.2zM288.3 355l.5-1 1.3-1 1.7-.5 2-.1 2 .5 1.5 .8 1 1.2 .3 1.1-.4 1-1.4 1.2-2 .6-2 0-2-.5-1.4-.8-.8-1-.2-.5zM397.6 384l.2-1 .7-1 1.1-1 1.6-.9 3-.9 2.5-.3 2.5-.2 4.5 .5 3.5 1.1 1.2 .7 1.1 1 .7 1 .2 1-.1 .5-22.6 0zM373.5 384l-.2 .5-21.9 0 3-1 4.4-.9 3.5-.5 3-.2 3.5 .1 2.5 .4 1.5 .6 .6 .5z"/>
<path fill="#ff5f14" fill-rule="evenodd" d="M433.7 231.1l-.2-.1 .2-.3zM495.4 250.5l.8-.2 .5 0 .1 .2-.6 .1zM300.7 328.5l1.6-.5 2 0 2.5 .5 .6 .5-1.1 .6-3 .1-1.2-.2-1.2-.5zM321.2 329.5l.6-.5 3.5-.3 2.8 .3 3.2 1-.4 .5-2.6 .4-2 0-3.2-.4-1.4-.5zM369.4 341l.9-.5 2-.3 2 .1 1.4 .7-.1 .5-.8 .3-2 .4-2-.2-1.2-.5zM385 341l1.3-.6 2-.3 2 .2 1.8 .7-.1 .5-1.1 .5-2.1 .3-2.6-.3-1.1-.5zM290.9 355.5l.2-.5 .4-.5 .8-.3 1-.2 1 .2 1 .5 .6 .8 0 .5-.3 .5-.8 .5-1.5 .2-1-.2-.8-.5-.4-.5zM403 384l.4-1 1.4-1 1.9-.6 2.5-.2 2 .2 2 .6 1.4 1 .4 1-.1 .5-11.8 0zM356.5 384.5l2.2-1 1.8-.5 4.8-.6 2.5 .1 2 .4 1.3 .6 .2 .5-.4 .5z"/>
<path fill="#fa0a14" fill-rule="evenodd" d="M360.9 384.5l.2-.5 1.1-.5 2.6-.4 3 .2 .6 .2 .4 .5-.5 .5z"/>
</g>
<rect x="119.0" y="163.5" width="440.5" height="221.0" fill="url(#mesh)"/>
<rect x="118.5" y="163.5" width="441.0" height="221.0" fill="none" stroke="#666" stroke-width="1"/>
<path d="M135.5 384.5v-3.2M135.5 163.5v3.2M152.5 384.5v-6.5M152.5 163.5v6.5M169.5 384.5v-3.2M169.5 163.5v3.2M186.5 384.5v-6.5M186.5 163.5v6.5M204.5 384.5v-3.2M204.5 163.5v3.2M221.5 384.5v-6.5M221.5 163.5v6.5M238.5 384.5v-3.2M238.5 163.5v3.2M256.5 384.5v-6.5M256.5 163.5v6.5M273.5 384.5v-3.2M273.5 163.5v3.2M290.5 384.5v-6.5M290.5 163.5v6.5M307.5 384.5v-3.2M307.5 163.5v3.2M325.5 384.5v-6.5M325.5 163.5v6.5M342.5 384.5v-3.2M342.5 163.5v3.2M359.5 384.5v-6.5M359.5 163.5v6.5M377.5 384.5v-3.2M377.5 163.5v3.2M394.5 384.5v-6.5M394.5 163.5v6.5M411.5 384.5v-3.2M411.5 163.5v3.2M428.5 384.5v-6.5M428.5 163.5v6.5M446.5 384.5v-3.2M446.5 163.5v3.2M463.5 384.5v-6.5M463.5 163.5v6.5M480.5 384.5v-3.2M480.5 163.5v3.2M498.5 384.5v-6.5M498.5 163.5v6.5M515.5 384.5v-3.2M515.5 163.5v3.2M532.5 384.5v-6.5M532.5 163.5v6.5M549.5 384.5v-3.2M549.5 163.5v3.2M119.0 370.5h3.2M559.5 370.5h-3.2M119.0 355.5h6.5M559.5 355.5h-6.5M119.0 340.5h3.2M559.5 340.5h-3.2M119.0 325.5h6.5M559.5 325.5h-6.5M119.0 311.5h3.2M559.5 311.5h-3.2M119.0 296.5h6.5M559.5 296.5h-6.5M119.0 281.5h3.2M559.5 281.5h-3.2M119.0 266.5h6.5M559.5 266.5h-6.5M119.0 251.5h3.2M559.5 251.5h-3.2M119.0 236.5h6.5M559.5 236.5h-6.5M119.0 221.5h3.2M559.5 221.5h-3.2M119.0 207.5h6.5M559.5 207.5h-6.5M119.0 192.5h3.2M559.5 192.5h-3.2M119.0 177.5h6.5M559.5 177.5h-6.5" stroke="#2a2a2a" stroke-width="0.85" fill="none"/>
<g opacity="0.99" font-family='"Liberation Sans", sans-serif' fill="#1c1c1c" font-size="12.4" letter-spacing="0.8" stroke="#fff" stroke-width="0.22">
<text x="152.8" y="399.2" text-anchor="middle">1</text>
<text x="187.4" y="399.2" text-anchor="middle">2</text>
<text x="221.9" y="399.2" text-anchor="middle">3</text>
<text x="256.5" y="399.2" text-anchor="middle">4</text>
<text x="291.1" y="399.2" text-anchor="middle">5</text>
<text x="325.6" y="399.2" text-anchor="middle">6</text>
<text x="360.2" y="399.2" text-anchor="middle">7</text>
<text x="394.8" y="399.2" text-anchor="middle">8</text>
<text x="429.4" y="399.2" text-anchor="middle">9</text>
<text x="463.9" y="399.2" text-anchor="middle">10</text>
<text x="498.5" y="399.2" text-anchor="middle">11</text>
<text x="533.1" y="399.2" text-anchor="middle">12</text>
<text x="113.4" y="360" text-anchor="end">4</text>
<text x="113.4" y="330.3" text-anchor="end">8</text>
<text x="113.4" y="300.6" text-anchor="end">12</text>
<text x="113.4" y="270.9" text-anchor="end">16</text>
<text x="113.4" y="241.1" text-anchor="end">20</text>
<text x="113.4" y="211.4" text-anchor="end">24</text>
<text x="113.4" y="181.7" text-anchor="end">28</text>
</g>
<g opacity="0.99" font-family='"Liberation Sans", sans-serif' fill="#1c1c1c" stroke="#fff" stroke-width="0.3">
<text x="270.3" y="133" font-size="19.6" stroke-width="0.55" textLength="138" lengthAdjust="spacing">Zonal Velocity</text>
<text x="57.4" y="148.7" font-size="12.2" textLength="67.6" lengthAdjust="spacing">(×1000 m)</text>
<text x="509" y="414.6" font-size="12.2" textLength="58.6" lengthAdjust="spacing">(×1E4 m)</text>
<text x="286.5" y="435.3" font-size="15.8" letter-spacing="1.18" dx="0 2 4.4">x-coordinate</text><path d="M296.9 430.9H306.8" stroke="#1c1c1c" stroke-width="1" fill="none"/>
<g transform="translate(88.2 326) rotate(-90)"><text font-size="15.8" stroke-width="0.4" letter-spacing="1.1" dx="0 2 4.4">z-coordinate</text><path d="M10.2 -4.4H20.1" stroke="#1c1c1c" stroke-width="1" fill="none"/></g>
<text x="567.6" y="171.6" font-size="12.2" fill="#666" textLength="40" lengthAdjust="spacing">4950 s</text>
</g>
<rect x="570.3" y="366.8" width="15" height="18" fill="#8c00be"/>
<rect x="570.3" y="349.2" width="15" height="18" fill="#3c14b4"/>
<rect x="570.3" y="331.5" width="15" height="18" fill="#1414b4"/>
<rect x="570.3" y="322.7" width="15" height="9.1" fill="#1455fa"/>
<rect x="570.3" y="313.8" width="15" height="9.1" fill="#0faafa"/>
<rect x="570.3" y="305" width="15" height="9.1" fill="#14f5a5"/>
<rect x="570.3" y="296.2" width="15" height="9.1" fill="#a8fc05"/>
<rect x="570.3" y="287.3" width="15" height="9.1" fill="#fffa00"/>
<rect x="570.3" y="278.5" width="15" height="9.1" fill="#ffaa0a"/>
<rect x="570.3" y="269.6" width="15" height="9.1" fill="#ff870f"/>
<rect x="570.3" y="260.8" width="15" height="9.1" fill="#ff5f14"/>
<rect x="570.3" y="243.1" width="15" height="18" fill="#ff0a14"/>
<rect x="570.3" y="225.5" width="15" height="18" fill="#ff5a64"/>
<rect x="570.3" y="207.8" width="15" height="18" fill="#ffaab4"/>
<path d="M570.3 207.8L577.8 200.3L585.3 207.8Z" fill="#ffe1e1" stroke="#222" stroke-width="1" stroke-linejoin="miter"/>
<path d="M570.3 366.8H585.3M570.3 349.2H585.3M570.3 331.5H585.3M570.3 322.7H585.3M570.3 313.8H585.3M570.3 305H585.3M570.3 296.2H585.3M570.3 287.3H585.3M570.3 278.5H585.3M570.3 269.6H585.3M570.3 260.8H585.3M570.3 243.1H585.3M570.3 225.5H585.3" stroke="#222" stroke-width="0.9" fill="none"/>
<rect x="570.3" y="207.8" width="15" height="176.7" fill="none" stroke="#222" stroke-width="1"/>
<g opacity="0.99" font-family='"Liberation Sans", sans-serif' fill="#1c1c1c" font-size="12.4" stroke="#fff" stroke-width="0.22">
<text x="592.6" y="370.4" letter-spacing="2.2">-4</text><path d="M590.6 366.3H598" stroke="#1c1c1c" stroke-width="1" fill="none"/>
<text x="592.6" y="335.1" letter-spacing="2.2">-2</text><path d="M590.6 331H598" stroke="#1c1c1c" stroke-width="1" fill="none"/>
<text x="592.6" y="317.4" letter-spacing="2.2">-1</text><path d="M590.6 313.3H598" stroke="#1c1c1c" stroke-width="1" fill="none"/>
<text x="591" y="299.8">0</text>
<text x="591" y="282.1">1</text>
<text x="591" y="264.4">2</text>
<text x="591" y="229.1">4</text>
</g>
</svg>
</body>
</html>
